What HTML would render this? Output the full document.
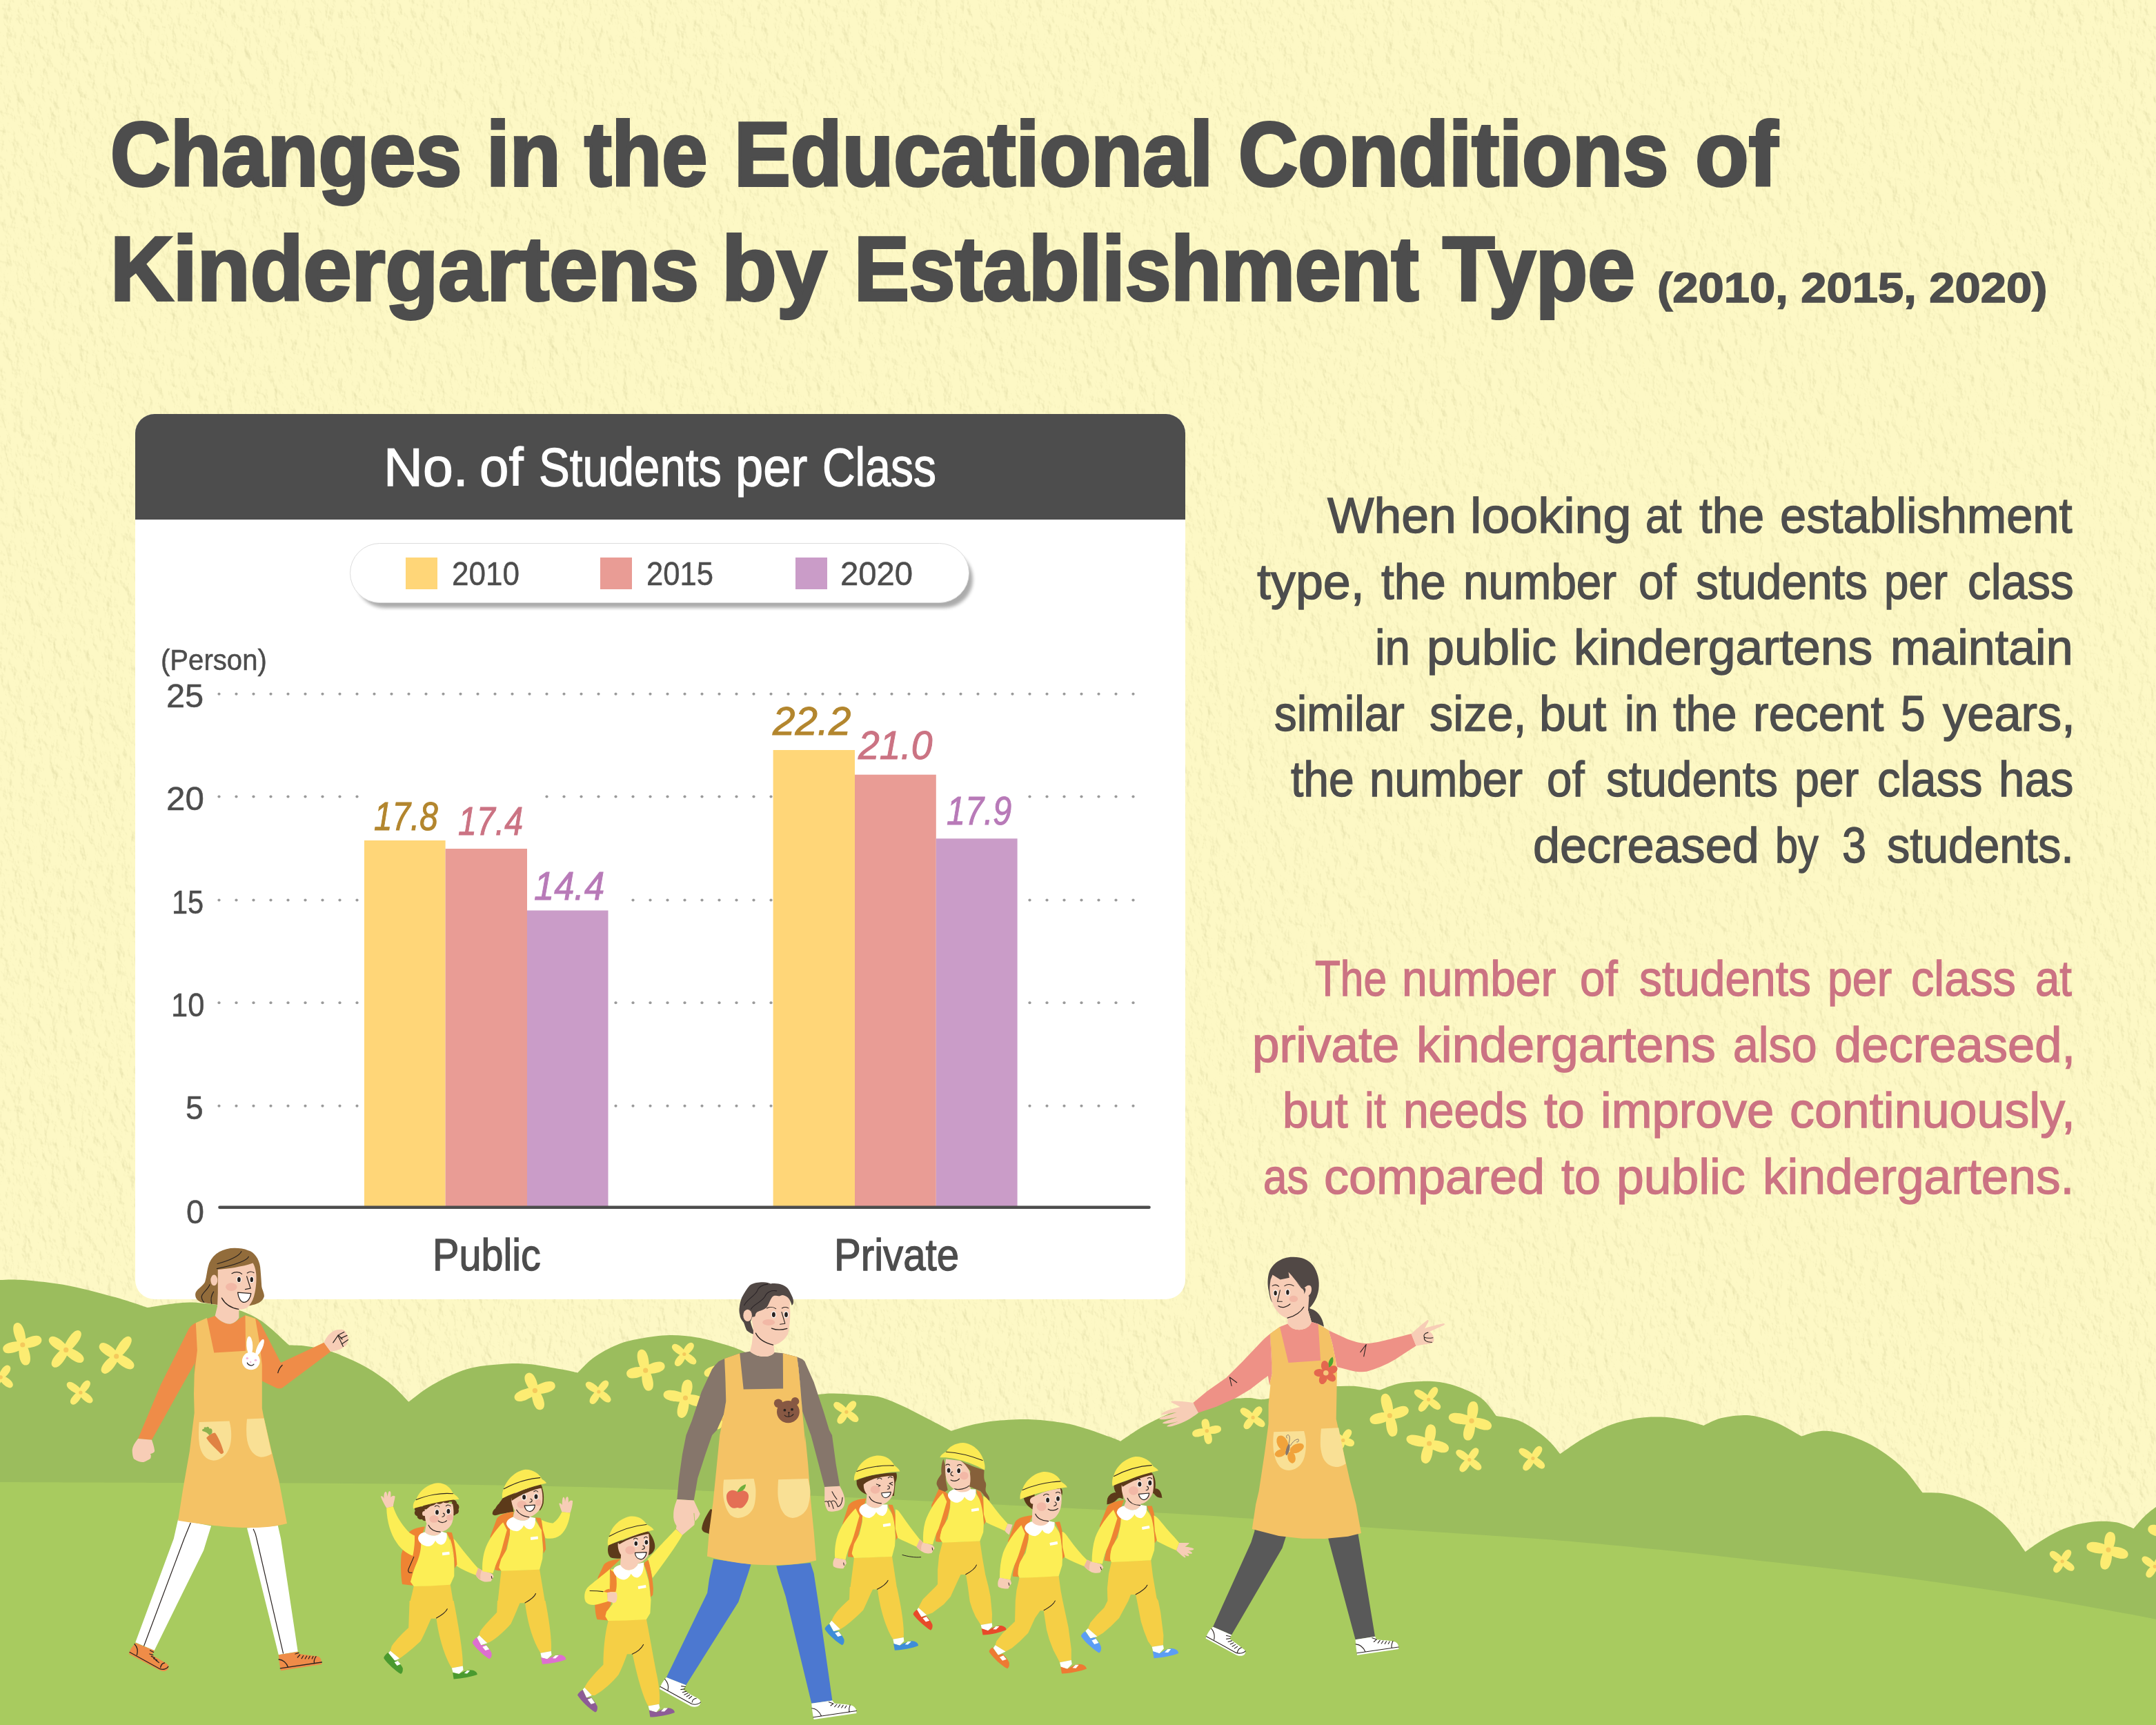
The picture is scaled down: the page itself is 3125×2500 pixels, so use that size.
<!DOCTYPE html>
<html lang="en"><head><meta charset="utf-8">
<title>Changes in the Educational Conditions of Kindergartens by Establishment Type</title>
<style>
html,body,p,h1,h2{margin:0;padding:0}
body{width:3125px;height:2500px;position:relative;overflow:hidden;background:#FDF8C5;font-family:"Liberation Sans", sans-serif}
.t{position:absolute;white-space:pre;transform-origin:0 0;margin:0;padding:0;display:block;line-height:1;font-family:"Liberation Sans", sans-serif;font-weight:400;font-style:normal}
svg.layer{position:absolute;left:0;top:0;width:3125px;height:2500px;display:block}
.card{position:absolute;left:196px;top:599.5px;width:1521.5px;height:1283px;background:#fff;border-radius:28px;overflow:hidden}
.card-head{position:absolute;left:0;top:0;width:100%;height:153.5px;background:#4D4D4D}
.legend{position:absolute;left:507px;top:787px;width:896px;height:85px;border-radius:44px;background:#fff;border:1.2px solid #DCDCDC;box-shadow:7px 9px 5px -2px rgba(0,0,0,.33)}
.sw{position:absolute;top:808px;width:46px;height:45.5px}
</style></head>
<body>
<svg class="layer" viewBox="0 0 3125 2500">
<defs><filter id="paper" x="0" y="0" width="100%" height="100%" color-interpolation-filters="sRGB">
<feTurbulence type="fractalNoise" baseFrequency="0.075 0.05" numOctaves="4" seed="11" result="n"/>
<feDiffuseLighting in="n" lighting-color="#ffffff" surfaceScale="1.35" diffuseConstant="1" result="l"><feDistantLight azimuth="325" elevation="58"/></feDiffuseLighting>
<feColorMatrix in="l" type="matrix" values="0 0 0 0 0.60  0 0 0 0 0.58  0 0 0 0 0.34  -1.1 0 0 0 0.925"/>
</filter></defs>
<rect x="0" y="0" width="3125" height="2400" filter="url(#paper)"/>
<path d="M-10.0,1856.1L-10.0,1856.1C-8.3,1855.9 -7.2,1855.2 0.0,1855.1C7.2,1854.9 16.7,1853.7 33.4,1855.1C50.1,1856.5 77.9,1859.2 100.2,1863.4C122.5,1867.6 148.1,1874.8 167.0,1880.1C185.9,1885.4 205.9,1892.6 213.7,1895.1L213.7,1895.1C219.9,1894.2 238.8,1890.7 250.5,1889.5C262.2,1888.2 269.9,1886.8 283.9,1887.8C297.8,1888.7 318.4,1890.9 334.0,1895.1C349.5,1899.4 363.2,1904.4 377.4,1913.5C391.6,1922.6 412.2,1943.6 419.1,1949.6L419.1,1949.6C423.3,1949.8 435.0,1949.7 444.2,1950.9C453.3,1952.1 464.8,1954.3 474.2,1956.9C483.7,1959.6 490.9,1962.5 500.9,1966.9C511.0,1971.4 523.2,1977.0 534.3,1983.6C545.5,1990.3 558.0,1998.9 567.7,2007.0C577.5,2015.1 588.6,2027.9 592.8,2032.1L591.7,2032.0C597.6,2027.8 612.6,2014.9 626.8,2006.9C641.0,1999.0 660.2,1989.2 676.9,1984.2C693.6,1979.2 712.0,1978.1 727.0,1976.9C742.0,1975.7 752.6,1975.6 767.1,1976.9C781.5,1978.2 802.1,1982.5 813.8,1984.6C825.5,1986.7 833.3,1988.7 837.2,1989.6L837.2,1989.6C841.1,1985.9 851.1,1974.3 860.6,1967.5C870.0,1960.8 882.8,1953.7 894.0,1949.2C905.1,1944.6 914.6,1942.5 927.4,1940.1C940.2,1937.8 956.9,1935.4 970.8,1935.1C984.7,1934.9 998.6,1936.5 1010.8,1938.5C1023.1,1940.4 1033.1,1943.5 1044.2,1946.8C1055.4,1950.2 1063.7,1952.1 1077.6,1958.5C1091.5,1964.9 1113.8,1977.2 1127.7,1985.2C1141.6,1993.3 1152.2,2000.8 1161.1,2006.9C1170.0,2013.1 1177.8,2019.5 1181.2,2022.0L1178.0,2022.0C1182.8,2021.6 1196.3,2019.7 1206.6,2019.6C1216.9,2019.5 1228.9,2020.5 1240.0,2021.3C1251.1,2022.1 1262.3,2021.7 1273.4,2024.3C1284.5,2026.9 1295.7,2032.1 1306.8,2037.0C1317.9,2041.9 1328.2,2047.6 1340.2,2053.7C1352.2,2059.8 1372.2,2070.4 1378.6,2073.7L1378.6,2073.7C1383.3,2072.3 1396.7,2067.8 1407.0,2065.4C1417.3,2063.0 1426.5,2060.8 1440.4,2059.4C1454.3,2058.0 1473.8,2056.6 1490.5,2057.0C1507.2,2057.5 1526.6,2059.8 1540.6,2062.0C1554.5,2064.3 1562.8,2067.1 1574.0,2070.4C1585.1,2073.7 1599.0,2079.0 1607.4,2082.1C1615.7,2085.1 1621.3,2087.6 1624.1,2088.8L1624.1,2088.8C1629.6,2085.1 1646.3,2073.5 1657.4,2067.1C1668.6,2060.7 1679.7,2055.4 1690.8,2050.4C1702.0,2045.3 1713.1,2040.4 1724.2,2037.0C1735.4,2033.5 1743.7,2031.5 1757.6,2029.7C1771.5,2027.8 1794.4,2026.4 1807.7,2026.0C1821.1,2025.5 1822.4,2030.3 1837.8,2027.0C1853.2,2023.7 1883.5,2009.2 1900.0,2006.2C1916.5,2003.2 1925.6,2008.4 1936.7,2008.9C1947.9,2009.4 1956.2,2008.3 1966.8,2009.2C1977.4,2010.2 1994.6,2013.7 2000.2,2014.5L2000.2,2014.5C2004.6,2013.0 2016.9,2007.3 2026.9,2005.2C2036.9,2003.1 2049.2,2002.0 2060.3,2001.9C2071.4,2001.7 2082.6,2002.0 2093.7,2004.2C2104.8,2006.4 2117.6,2011.0 2127.1,2015.2C2136.6,2019.4 2143.5,2023.1 2150.5,2029.2C2157.4,2035.4 2165.8,2048.2 2168.8,2052.0L2168.8,2052.0C2174.1,2053.1 2190.8,2055.0 2200.6,2058.6C2210.3,2062.2 2219.5,2068.4 2227.3,2073.7C2235.1,2078.9 2241.6,2084.8 2247.3,2090.4C2253.0,2095.9 2259.0,2104.3 2261.3,2107.1L2261.3,2107.1C2266.8,2103.4 2281.9,2092.3 2294.1,2085.3C2306.2,2078.4 2320.8,2070.3 2334.1,2065.3C2347.5,2060.3 2362.0,2057.2 2374.2,2055.3C2386.5,2053.3 2396.5,2053.2 2407.6,2053.6C2418.7,2054.1 2430.7,2055.9 2441.0,2058.0C2451.3,2060.0 2464.7,2064.6 2469.4,2066.0L2469.4,2066.0C2473.6,2064.2 2484.7,2057.8 2494.4,2055.3C2504.2,2052.8 2518.1,2051.1 2527.8,2050.9C2537.6,2050.8 2544.0,2052.4 2552.8,2054.6C2561.6,2056.9 2570.9,2059.9 2580.7,2064.4C2590.4,2068.9 2606.2,2078.7 2611.3,2081.6L2611.3,2081.6C2614.5,2080.6 2624.3,2076.7 2630.8,2075.5C2637.2,2074.2 2642.3,2073.4 2650.2,2074.1C2658.1,2074.8 2668.8,2076.9 2678.1,2079.7C2687.3,2082.5 2696.6,2086.2 2705.9,2090.8C2715.2,2095.4 2724.4,2100.8 2733.7,2107.5C2743.0,2114.2 2752.7,2121.9 2761.6,2131.2C2770.4,2140.4 2782.4,2157.8 2786.6,2163.2L2786.6,2163.2C2791.7,2163.4 2807.5,2163.2 2817.2,2164.5C2827.0,2165.9 2835.8,2168.3 2845.0,2171.5C2854.3,2174.8 2863.6,2178.5 2872.9,2184.0C2882.1,2189.6 2892.8,2197.7 2900.7,2204.9C2908.6,2212.1 2914.4,2219.8 2920.2,2227.2C2926.0,2234.5 2932.9,2245.3 2935.5,2248.9L2935.5,2248.9C2939.4,2246.2 2951.0,2237.7 2959.1,2232.7C2967.3,2227.7 2975.4,2222.8 2984.2,2218.8C2993.0,2214.9 3002.7,2211.4 3012.0,2209.1C3021.3,2206.8 3030.6,2205.4 3039.8,2204.9C3049.1,2204.4 3058.9,2204.6 3067.7,2206.3C3076.5,2208.0 3088.5,2213.7 3092.7,2215.2L3092.7,2215.2C3095.5,2212.1 3104.0,2201.7 3109.4,2196.6C3114.8,2191.4 3118.0,2189.1 3125.0,2184.0C3132.0,2178.9 3146.8,2169.0 3151.2,2165.9L3140,2500L-20,2500Z" fill="#9BBD5D"/>
<path d="M28.8,1951.1C21.8,1941.8 14.0,1920.0 23.9,1917.3C33.9,1914.5 38.6,1937.1 37.4,1948.7ZM30.7,1944.9C38.5,1938.1 57.1,1930.8 60.1,1940.6C63.1,1950.5 43.6,1954.8 33.3,1953.5ZM37.1,1947.3C43.1,1956.2 48.5,1976.6 38.4,1978.5C28.3,1980.4 25.9,1959.5 28.3,1948.9ZM34.8,1953.1C26.5,1959.6 7.0,1966.2 4.5,1956.2C1.9,1946.2 22.2,1942.7 32.6,1944.4Z" fill="#FCEC72"/><circle cx="32.8" cy="1949.0" r="3.6" fill="#F4C95C"/><path d="M91.7,1954.8C95.2,1943.4 108.0,1923.3 115.8,1928.9C123.5,1934.6 108.3,1953.0 98.5,1959.7ZM97.2,1952.4C107.6,1954.3 125.9,1964.2 120.8,1972.4C115.6,1980.5 98.9,1968.1 92.7,1959.5ZM99.6,1958.3C96.5,1968.7 84.4,1986.6 76.8,1980.7C69.2,1974.8 83.6,1958.7 93.0,1953.1ZM94.0,1960.4C83.7,1957.8 66.1,1946.7 71.8,1939.0C77.5,1931.2 93.4,1944.6 98.9,1953.6Z" fill="#FCEC72"/><circle cx="95.7" cy="1956.4" r="3.6" fill="#F4C95C"/><path d="M164.6,1964.1C168.0,1952.6 180.9,1932.2 188.7,1937.8C196.5,1943.5 181.3,1962.1 171.5,1969.0ZM170.2,1961.7C180.6,1963.7 198.9,1973.7 193.7,1981.8C188.5,1989.9 171.7,1977.4 165.6,1968.7ZM172.5,1967.7C168.9,1978.1 156.0,1995.8 148.6,1989.6C141.2,1983.4 156.4,1967.6 166.0,1962.3ZM166.9,1969.6C156.7,1967.1 139.1,1956.2 144.7,1948.4C150.3,1940.6 166.2,1953.9 171.8,1962.8Z" fill="#FCEC72"/><circle cx="168.7" cy="1965.7" r="3.6" fill="#F4C95C"/><path d="M-1.9,1994.5C-0.3,1987.2 7.3,1975.1 13.4,1979.6C19.4,1984.1 9.9,1994.9 3.4,1998.4ZM2.7,1993.0C10.2,1995.1 22.6,2003.8 17.8,2009.7C13.0,2015.5 2.1,2005.0 -1.5,1998.1ZM3.9,1997.8C1.4,2005.0 -7.9,2016.5 -13.4,2011.3C-18.9,2006.1 -7.9,1996.2 -0.9,1993.2ZM-0.1,1999.1C-7.7,1998.0 -20.8,1991.0 -16.7,1984.6C-12.6,1978.2 -0.8,1987.1 3.4,1993.5Z" fill="#FCEC72"/><circle cx="1.1" cy="1996.0" r="2.8" fill="#F4C95C"/><path d="M114.0,2016.9C115.6,2009.6 123.3,1997.1 129.1,2001.3C135.0,2005.5 125.5,2016.7 119.1,2020.6ZM118.4,2015.4C125.8,2017.6 138.2,2026.3 133.6,2031.9C129.0,2037.5 118.0,2027.1 114.4,2020.2ZM119.7,2019.7C117.6,2027.0 109.1,2039.2 103.5,2034.7C97.9,2030.2 108.1,2019.3 114.8,2015.7ZM115.7,2021.2C107.5,2019.2 93.3,2010.6 97.4,2004.6C101.5,1998.7 114.5,2009.1 119.3,2016.0Z" fill="#FCEC72"/><circle cx="116.9" cy="2018.2" r="2.6" fill="#F4C95C"/><path d="M771.6,2017.9C764.1,2011.3 755.0,1994.4 764.4,1990.2C773.8,1986.1 780.1,2004.3 779.9,2014.2ZM773.3,2011.2C781.7,2004.4 801.6,1997.0 804.5,2006.9C807.3,2016.8 786.5,2021.2 775.8,2019.9ZM779.4,2013.1C786.4,2020.9 794.2,2039.8 784.4,2043.0C774.6,2046.2 769.8,2026.3 770.9,2015.9ZM777.9,2019.1C769.8,2026.9 749.8,2036.6 746.0,2027.0C742.2,2017.4 763.4,2010.7 774.6,2010.8Z" fill="#FCEC72"/><circle cx="775.4" cy="2015.3" r="3.6" fill="#F4C95C"/><path d="M866.7,2019.9C858.9,2018.2 845.4,2010.2 849.5,2004.3C853.6,1998.3 865.9,2008.1 870.2,2014.7ZM865.1,2015.4C867.0,2008.5 875.0,1997.0 880.6,2001.6C886.2,2006.2 876.4,2016.2 870.0,2019.4ZM869.4,2014.1C876.9,2016.5 889.2,2025.5 884.6,2031.0C880.0,2036.5 869.0,2025.9 865.4,2019.0ZM870.9,2018.2C869.6,2025.5 862.6,2038.3 856.6,2034.3C850.5,2030.4 859.4,2018.8 865.6,2014.7Z" fill="#FCEC72"/><circle cx="867.9" cy="2017.0" r="2.6" fill="#F4C95C"/><path d="M931.5,1988.1C925.2,1979.0 919.0,1958.1 929.0,1955.8C939.1,1953.6 942.2,1975.2 940.3,1986.2ZM933.7,1982.1C941.7,1975.5 960.7,1968.6 963.4,1978.6C966.2,1988.5 946.4,1992.4 936.1,1990.8ZM939.9,1984.5C946.0,1993.4 951.5,2013.7 941.4,2015.6C931.3,2017.6 928.8,1996.7 931.1,1986.2ZM937.4,1990.5C929.3,1996.5 910.4,2002.0 908.3,1991.9C906.2,1981.8 925.7,1979.4 935.6,1981.7Z" fill="#FCEC72"/><circle cx="935.7" cy="1986.2" r="3.6" fill="#F4C95C"/><path d="M990.4,1965.4C983.0,1963.5 970.4,1955.2 974.8,1949.5C979.2,1943.8 990.4,1953.8 994.2,1960.4ZM989.0,1961.0C990.7,1954.0 998.5,1942.4 1004.2,1946.8C1009.8,1951.3 1000.3,1961.6 993.9,1964.9ZM993.3,1959.7C1000.6,1961.8 1013.0,1970.3 1008.5,1975.9C1004.0,1981.5 993.0,1971.3 989.3,1964.6ZM994.7,1963.9C993.2,1971.1 985.6,1983.4 979.8,1979.2C973.9,1975.0 983.2,1964.0 989.6,1960.2Z" fill="#FCEC72"/><circle cx="991.8" cy="1962.5" r="2.6" fill="#F4C95C"/><path d="M988.9,2026.1C986.0,2016.7 987.3,1998.0 997.5,1999.6C1007.7,2001.1 1003.3,2019.4 997.8,2027.4ZM993.8,2021.4C1004.4,2019.8 1025.2,2023.7 1022.5,2033.7C1019.9,2043.6 1000.0,2036.7 991.5,2030.1ZM998.1,2026.1C1000.0,2036.6 996.8,2057.0 986.8,2054.7C976.8,2052.4 983.0,2032.6 989.3,2024.1ZM993.6,2030.6C982.4,2032.9 959.9,2030.4 961.7,2020.3C963.6,2010.2 985.5,2015.7 995.2,2021.7Z" fill="#FCEC72"/><circle cx="993.5" cy="2026.0" r="3.6" fill="#F4C95C"/><path d="M1048.2,1985.3C1041.3,1992.0 1024.3,2000.3 1021.0,1992.0C1017.7,1983.7 1035.7,1978.0 1045.3,1978.1Z" fill="#FCEC72"/><circle cx="1046.0" cy="1982.0" r="0.1" fill="#F4C95C"/><path d="M1045.8,2059.7C1039.2,2057.4 1029.1,2048.8 1034.2,2043.7C1039.3,2038.6 1047.9,2048.7 1050.2,2055.2ZM1044.8,2055.4C1047.0,2048.5 1055.5,2037.2 1060.9,2042.0C1066.3,2046.8 1056.2,2056.6 1049.5,2059.6ZM1048.7,2054.0C1055.7,2054.8 1068.0,2060.9 1064.3,2067.1C1060.6,2073.2 1049.4,2065.3 1045.5,2059.4ZM1050.4,2058.5C1049.5,2064.7 1043.3,2074.7 1037.6,2070.4C1031.8,2066.1 1039.7,2057.4 1045.4,2054.7Z" fill="#FCEC72"/><circle cx="1047.6" cy="2057.0" r="2.6" fill="#F4C95C"/><path d="M1225.6,2049.3C1218.0,2047.5 1204.7,2039.6 1208.9,2033.7C1213.0,2027.8 1225.0,2037.5 1229.3,2044.2ZM1224.1,2044.8C1226.0,2037.9 1234.1,2026.7 1239.6,2031.3C1245.1,2036.0 1235.4,2045.8 1228.9,2048.8ZM1228.3,2043.5C1235.7,2045.4 1248.0,2053.7 1243.6,2059.4C1239.2,2065.1 1228.2,2055.1 1224.5,2048.4ZM1229.8,2047.7C1228.4,2054.8 1221.1,2066.9 1215.2,2062.7C1209.4,2058.5 1218.4,2047.7 1224.7,2044.0Z" fill="#FCEC72"/><circle cx="1226.9" cy="2046.3" r="2.6" fill="#F4C95C"/><path d="M1814.8,2057.3C1807.3,2055.7 1794.2,2047.9 1798.4,2042.0C1802.5,2036.1 1814.3,2045.6 1818.4,2052.2ZM1813.2,2052.9C1814.8,2046.1 1822.1,2034.9 1827.8,2039.3C1833.5,2043.8 1824.4,2053.6 1818.2,2056.7ZM1817.4,2051.4C1824.7,2053.0 1837.0,2060.5 1832.8,2066.4C1828.6,2072.2 1817.5,2062.9 1813.7,2056.6ZM1819.0,2055.7C1817.5,2062.8 1810.2,2074.6 1804.4,2070.4C1798.6,2066.1 1807.6,2055.6 1813.9,2052.0Z" fill="#FCEC72"/><circle cx="1816.1" cy="2054.4" r="2.6" fill="#F4C95C"/><path d="M1746.1,2074.9C1742.0,2069.7 1738.5,2057.8 1745.9,2056.4C1753.4,2054.9 1754.6,2067.3 1752.6,2073.6ZM1748.1,2070.6C1754.5,2066.4 1768.8,2062.9 1770.0,2070.4C1771.2,2077.9 1756.5,2079.1 1749.2,2077.1ZM1752.4,2072.6C1756.6,2078.3 1760.1,2091.5 1752.6,2092.8C1745.2,2094.1 1744.0,2080.6 1745.9,2073.7ZM1750.7,2076.8C1744.5,2081.5 1730.0,2086.1 1728.2,2078.7C1726.5,2071.4 1741.5,2069.0 1749.2,2070.4Z" fill="#FCEC72"/><circle cx="1749.3" cy="2073.7" r="2.8" fill="#F4C95C"/><path d="M2010.1,2053.6C2003.5,2044.2 1996.6,2022.3 2006.6,2019.9C2016.6,2017.5 2020.5,2040.1 2018.9,2051.5ZM2012.0,2047.7C2019.5,2040.6 2038.0,2032.5 2041.4,2042.2C2044.8,2051.9 2025.3,2057.1 2014.9,2056.2ZM2018.5,2049.9C2024.5,2059.1 2030.0,2080.0 2019.8,2081.8C2009.7,2083.7 2007.3,2062.3 2009.7,2051.6ZM2016.2,2055.8C2007.9,2062.3 1988.3,2068.9 1985.7,2058.9C1983.2,2048.9 2003.6,2045.3 2014.0,2047.1Z" fill="#FCEC72"/><circle cx="2014.3" cy="2051.6" r="3.6" fill="#F4C95C"/><path d="M2069.6,2031.3C2061.3,2029.7 2046.6,2021.9 2050.4,2015.7C2054.2,2009.6 2067.8,2019.3 2072.9,2026.0ZM2067.7,2027.0C2069.1,2019.6 2076.5,2006.8 2082.4,2010.9C2088.4,2014.9 2079.2,2026.5 2072.9,2030.6ZM2072.1,2025.4C2079.4,2027.4 2091.8,2035.8 2087.3,2041.5C2082.8,2047.1 2071.8,2037.0 2068.2,2030.3ZM2073.5,2029.7C2071.5,2037.1 2063.1,2049.4 2057.4,2045.0C2051.7,2040.5 2061.9,2029.5 2068.5,2025.8Z" fill="#FCEC72"/><circle cx="2070.6" cy="2028.3" r="2.6" fill="#F4C95C"/><path d="M2128.4,2059.5C2125.2,2049.8 2125.8,2029.9 2136.0,2031.0C2146.3,2032.2 2142.6,2051.7 2137.3,2060.5ZM2133.4,2054.6C2144.1,2053.4 2164.8,2058.1 2161.8,2067.9C2158.8,2077.8 2139.1,2070.1 2130.8,2063.2ZM2137.5,2059.3C2139.5,2069.6 2136.3,2089.8 2126.3,2087.4C2116.3,2085.0 2122.4,2065.6 2128.8,2057.3ZM2133.2,2063.8C2121.5,2066.0 2098.1,2063.5 2099.8,2053.3C2101.6,2043.2 2124.5,2048.8 2134.7,2054.9Z" fill="#FCEC72"/><circle cx="2133.0" cy="2059.2" r="3.6" fill="#F4C95C"/><path d="M2067.2,2092.3C2064.0,2082.8 2064.6,2063.3 2074.8,2064.4C2085.0,2065.6 2081.3,2084.7 2076.1,2093.3ZM2072.2,2087.4C2082.7,2086.2 2102.9,2090.8 2099.8,2100.6C2096.8,2110.5 2077.6,2102.9 2069.6,2096.0ZM2076.3,2092.1C2078.2,2102.6 2075.1,2123.1 2065.1,2120.8C2055.0,2118.5 2061.2,2098.7 2067.6,2090.1ZM2071.7,2096.6C2059.9,2098.3 2036.4,2094.7 2038.6,2084.6C2040.9,2074.6 2063.7,2081.3 2073.7,2087.8Z" fill="#FCEC72"/><circle cx="2071.7" cy="2092.0" r="3.6" fill="#F4C95C"/><path d="M2128.5,2118.6C2120.7,2116.8 2106.9,2108.6 2111.0,2102.7C2115.1,2096.8 2127.6,2106.7 2132.1,2113.4ZM2126.8,2114.3C2128.3,2107.1 2135.7,2095.0 2141.6,2099.2C2147.4,2103.4 2138.3,2114.3 2132.0,2118.0ZM2131.2,2112.8C2138.6,2114.9 2151.0,2123.5 2146.5,2129.1C2141.9,2134.8 2130.9,2124.5 2127.3,2117.7ZM2132.7,2117.0C2130.9,2124.4 2123.0,2136.9 2117.2,2132.6C2111.4,2128.3 2121.1,2117.1 2127.6,2113.3Z" fill="#FCEC72"/><circle cx="2129.8" cy="2115.6" r="2.6" fill="#F4C95C"/><path d="M2220.7,2116.6C2212.6,2114.8 2198.2,2106.7 2202.1,2100.6C2206.1,2094.6 2219.3,2104.6 2224.2,2111.3ZM2218.9,2112.3C2220.3,2105.0 2227.4,2092.4 2233.4,2096.4C2239.4,2100.5 2230.4,2111.8 2224.1,2115.8ZM2223.4,2110.7C2230.7,2112.9 2242.9,2121.5 2238.3,2127.1C2233.7,2132.6 2222.9,2122.3 2219.4,2115.6ZM2224.8,2114.9C2222.9,2122.3 2214.8,2134.9 2209.1,2130.5C2203.3,2126.2 2213.1,2115.0 2219.7,2111.2Z" fill="#FCEC72"/><circle cx="2221.9" cy="2113.6" r="2.6" fill="#F4C95C"/><path d="M1943.9,2086.1C1944.9,2079.4 1951.3,2068.0 1957.2,2072.1C1963.2,2076.2 1955.0,2086.3 1949.1,2089.6ZM1947.3,2084.3C1953.6,2083.3 1965.2,2086.2 1962.8,2093.0C1960.4,2099.8 1949.6,2094.9 1945.3,2090.2ZM1949.8,2088.5C1949.8,2094.5 1945.4,2104.8 1939.1,2101.3C1932.8,2097.8 1939.1,2088.6 1944.3,2085.5ZM1945.7,2090.4C1939.4,2090.2 1928.6,2085.3 1932.2,2079.1C1935.7,2072.8 1945.4,2079.6 1948.8,2084.9Z" fill="#FCEC72"/><circle cx="1946.8" cy="2087.4" r="2.6" fill="#F4C95C"/><path d="M2987.8,2265.7C2980.2,2263.6 2967.3,2255.2 2971.7,2249.4C2976.0,2243.7 2987.6,2253.9 2991.6,2260.7ZM2986.3,2261.5C2987.5,2254.5 2994.4,2242.5 3000.3,2246.6C3006.3,2250.7 2997.6,2261.4 2991.5,2265.1ZM2990.6,2259.9C2997.8,2261.5 3010.2,2269.2 3005.9,2275.0C3001.6,2280.8 2990.6,2271.4 2986.8,2265.0ZM2992.1,2264.1C2990.9,2271.1 2984.0,2282.8 2978.1,2278.6C2972.2,2274.5 2980.8,2264.0 2987.0,2260.5Z" fill="#FCEC72"/><circle cx="2989.2" cy="2262.8" r="2.6" fill="#F4C95C"/><path d="M3051.4,2246.2C3048.5,2237.0 3049.7,2218.7 3059.9,2220.2C3070.1,2221.7 3065.8,2239.6 3060.3,2247.5ZM3056.4,2241.5C3066.9,2240.1 3087.2,2244.2 3084.4,2254.2C3081.6,2264.1 3062.1,2256.9 3053.9,2250.2ZM3060.6,2246.2C3062.6,2256.5 3059.6,2276.7 3049.6,2274.5C3039.5,2272.2 3045.5,2252.7 3051.8,2244.2ZM3056.1,2250.7C3045.0,2253.0 3022.7,2250.7 3024.5,2240.5C3026.3,2230.4 3048.1,2235.8 3057.7,2241.8Z" fill="#FCEC72"/><circle cx="3056.0" cy="2246.1" r="3.6" fill="#F4C95C"/><path d="M3122.0,2273.2C3114.3,2271.3 3101.0,2263.1 3105.2,2257.2C3109.5,2251.4 3121.5,2261.4 3125.7,2268.1ZM3120.4,2268.9C3122.7,2261.1 3131.5,2247.8 3137.3,2252.2C3143.0,2256.6 3132.4,2268.6 3125.4,2272.8ZM3124.7,2267.4C3132.0,2269.2 3144.4,2277.1 3140.0,2282.8C3135.7,2288.6 3124.7,2279.0 3120.9,2272.4ZM3126.2,2271.7C3124.9,2278.5 3118.0,2289.8 3112.2,2285.6C3106.4,2281.4 3115.0,2271.3 3121.1,2268.0Z" fill="#FCEC72"/><circle cx="3123.3" cy="2270.3" r="2.6" fill="#F4C95C"/><path d="M3141.0,2227.6C3130.6,2228.9 3110.6,2224.5 3113.6,2214.6C3116.6,2204.8 3135.6,2212.1 3143.6,2218.9ZM3136.9,2223.1C3134.0,2213.7 3135.4,2194.9 3145.6,2196.6C3155.8,2198.2 3151.3,2216.4 3145.7,2224.5ZM3141.5,2218.4C3150.0,2215.6 3166.9,2217.0 3165.1,2227.2C3163.3,2237.3 3147.0,2232.8 3139.9,2227.3ZM3146.0,2222.9C3148.8,2232.3 3147.4,2251.0 3137.3,2249.4C3127.1,2247.8 3131.5,2229.6 3137.1,2221.5Z" fill="#FCEC72"/><circle cx="3141.4" cy="2223.0" r="3.6" fill="#F4C95C"/>
<path d="M-20,2147.5C-16.7,2147.6 -45.0,2147.8 0.0,2148.0C45.0,2148.2 166.7,2148.7 250.0,2149.0C333.3,2149.3 416.7,2149.3 500.0,2150.0C583.3,2150.7 670.5,2151.5 750.0,2153.0C829.5,2154.5 904.5,2156.5 977.0,2159.0C1049.5,2161.5 1102.2,2164.2 1185.0,2168.0C1267.8,2171.8 1386.8,2177.7 1474.0,2182.0C1561.2,2186.3 1652.3,2190.9 1708.0,2194.0C1763.7,2197.1 1763.8,2197.4 1808.0,2200.6C1852.2,2203.8 1902.5,2208.0 1973.5,2213.0C2044.5,2218.0 2162.8,2225.2 2234.0,2230.6C2305.2,2236.0 2352.5,2240.9 2401.0,2245.6C2449.5,2250.3 2481.2,2254.2 2525.0,2259.0C2568.8,2263.8 2617.7,2268.9 2664.0,2274.5C2710.3,2280.1 2756.7,2286.1 2803.0,2292.6C2849.3,2299.1 2895.5,2305.8 2942.0,2313.4C2988.5,2321.1 3051.5,2332.9 3082.0,2338.5C3112.5,2344.1 3113.7,2344.6 3125.0,2346.8C3136.3,2349.1 3145.8,2351.1 3150.0,2352.0L3150,2520L-20,2520Z" fill="#A8CB5F"/>

</svg>
<header>
<span class="t" style="left:159.8px;top:157.8px;font-size:132px;font-weight:700;color:#4D4D4D;transform:scaleX(0.9137);-webkit-text-stroke:4px #4D4D4D;">Changes</span>
<span class="t" style="left:705.1px;top:157.8px;font-size:132px;font-weight:700;color:#4D4D4D;transform:scaleX(0.9171);-webkit-text-stroke:4px #4D4D4D;">in</span>
<span class="t" style="left:846.9px;top:157.8px;font-size:132px;font-weight:700;color:#4D4D4D;transform:scaleX(0.9004);-webkit-text-stroke:4px #4D4D4D;">the</span>
<span class="t" style="left:1064.4px;top:157.8px;font-size:132px;font-weight:700;color:#4D4D4D;transform:scaleX(0.9280);-webkit-text-stroke:4px #4D4D4D;">Educational</span>
<span class="t" style="left:1794.8px;top:157.8px;font-size:132px;font-weight:700;color:#4D4D4D;transform:scaleX(0.9044);-webkit-text-stroke:4px #4D4D4D;">Conditions</span>
<span class="t" style="left:2457.1px;top:157.8px;font-size:132px;font-weight:700;color:#4D4D4D;transform:scaleX(0.9628);-webkit-text-stroke:4px #4D4D4D;">of</span>
<span class="t" style="left:160.3px;top:323.5px;font-size:132px;font-weight:700;color:#4D4D4D;transform:scaleX(0.9532);-webkit-text-stroke:4px #4D4D4D;">Kindergartens</span>
<span class="t" style="left:1046.1px;top:323.5px;font-size:132px;font-weight:700;color:#4D4D4D;transform:scaleX(0.9891);-webkit-text-stroke:4px #4D4D4D;">by</span>
<span class="t" style="left:1238.1px;top:323.5px;font-size:132px;font-weight:700;color:#4D4D4D;transform:scaleX(0.9072);-webkit-text-stroke:4px #4D4D4D;">Establishment</span>
<span class="t" style="left:2090.9px;top:323.5px;font-size:132px;font-weight:700;color:#4D4D4D;transform:scaleX(0.9347);-webkit-text-stroke:4px #4D4D4D;">Type</span>
<span class="t" style="left:2401.6px;top:385.5px;font-size:62px;font-weight:700;color:#4D4D4D;transform:scaleX(1.0792);-webkit-text-stroke:1.5px #4D4D4D;">(2010, 2015, 2020)</span>
</header>
<section class="card"><div class="card-head"></div></section>
<h2><span class="t" style="left:555.8px;top:638.8px;font-size:77px;color:#FFFFFF;transform:scaleX(1.0232);-webkit-text-stroke:1.3px #FFFFFF;">No.</span> <span class="t" style="left:695.2px;top:638.8px;font-size:77px;color:#FFFFFF;transform:scaleX(0.9901);-webkit-text-stroke:1.3px #FFFFFF;">of</span> <span class="t" style="left:780.5px;top:638.8px;font-size:77px;color:#FFFFFF;transform:scaleX(0.8716);-webkit-text-stroke:1.3px #FFFFFF;">Students</span> <span class="t" style="left:1065.6px;top:638.8px;font-size:77px;color:#FFFFFF;transform:scaleX(0.9380);-webkit-text-stroke:1.3px #FFFFFF;">per</span> <span class="t" style="left:1191.7px;top:638.8px;font-size:77px;color:#FFFFFF;transform:scaleX(0.8562);-webkit-text-stroke:1.3px #FFFFFF;">Class</span></h2>
<div class="legend"></div>
<i class="sw" style="left:588px;background:#FFD678"></i><i class="sw" style="left:870px;background:#E99C95"></i><i class="sw" style="left:1153px;background:#CA9CC8"></i>
<svg class="layer" viewBox="0 0 3125 2500">
<g fill="#9A9A9A"><circle cx="317.5" cy="1005.75" r="2.1"/><circle cx="342.5" cy="1005.75" r="2.1"/><circle cx="367.5" cy="1005.75" r="2.1"/><circle cx="392.5" cy="1005.75" r="2.1"/><circle cx="417.5" cy="1005.75" r="2.1"/><circle cx="442.5" cy="1005.75" r="2.1"/><circle cx="467.5" cy="1005.75" r="2.1"/><circle cx="492.5" cy="1005.75" r="2.1"/><circle cx="517.5" cy="1005.75" r="2.1"/><circle cx="542.5" cy="1005.75" r="2.1"/><circle cx="567.5" cy="1005.75" r="2.1"/><circle cx="592.5" cy="1005.75" r="2.1"/><circle cx="617.5" cy="1005.75" r="2.1"/><circle cx="642.5" cy="1005.75" r="2.1"/><circle cx="667.5" cy="1005.75" r="2.1"/><circle cx="692.5" cy="1005.75" r="2.1"/><circle cx="717.5" cy="1005.75" r="2.1"/><circle cx="742.5" cy="1005.75" r="2.1"/><circle cx="767.5" cy="1005.75" r="2.1"/><circle cx="792.5" cy="1005.75" r="2.1"/><circle cx="817.5" cy="1005.75" r="2.1"/><circle cx="842.5" cy="1005.75" r="2.1"/><circle cx="867.5" cy="1005.75" r="2.1"/><circle cx="892.5" cy="1005.75" r="2.1"/><circle cx="917.5" cy="1005.75" r="2.1"/><circle cx="942.5" cy="1005.75" r="2.1"/><circle cx="967.5" cy="1005.75" r="2.1"/><circle cx="992.5" cy="1005.75" r="2.1"/><circle cx="1017.5" cy="1005.75" r="2.1"/><circle cx="1042.5" cy="1005.75" r="2.1"/><circle cx="1067.5" cy="1005.75" r="2.1"/><circle cx="1092.5" cy="1005.75" r="2.1"/><circle cx="1117.5" cy="1005.75" r="2.1"/><circle cx="1142.5" cy="1005.75" r="2.1"/><circle cx="1167.5" cy="1005.75" r="2.1"/><circle cx="1192.5" cy="1005.75" r="2.1"/><circle cx="1217.5" cy="1005.75" r="2.1"/><circle cx="1242.5" cy="1005.75" r="2.1"/><circle cx="1267.5" cy="1005.75" r="2.1"/><circle cx="1292.5" cy="1005.75" r="2.1"/><circle cx="1317.5" cy="1005.75" r="2.1"/><circle cx="1342.5" cy="1005.75" r="2.1"/><circle cx="1367.5" cy="1005.75" r="2.1"/><circle cx="1392.5" cy="1005.75" r="2.1"/><circle cx="1417.5" cy="1005.75" r="2.1"/><circle cx="1442.5" cy="1005.75" r="2.1"/><circle cx="1467.5" cy="1005.75" r="2.1"/><circle cx="1492.5" cy="1005.75" r="2.1"/><circle cx="1517.5" cy="1005.75" r="2.1"/><circle cx="1542.5" cy="1005.75" r="2.1"/><circle cx="1567.5" cy="1005.75" r="2.1"/><circle cx="1592.5" cy="1005.75" r="2.1"/><circle cx="1617.5" cy="1005.75" r="2.1"/><circle cx="1642.5" cy="1005.75" r="2.1"/><circle cx="317.5" cy="1154.5" r="2.1"/><circle cx="342.5" cy="1154.5" r="2.1"/><circle cx="367.5" cy="1154.5" r="2.1"/><circle cx="392.5" cy="1154.5" r="2.1"/><circle cx="417.5" cy="1154.5" r="2.1"/><circle cx="442.5" cy="1154.5" r="2.1"/><circle cx="467.5" cy="1154.5" r="2.1"/><circle cx="492.5" cy="1154.5" r="2.1"/><circle cx="517.5" cy="1154.5" r="2.1"/><circle cx="792.5" cy="1154.5" r="2.1"/><circle cx="817.5" cy="1154.5" r="2.1"/><circle cx="842.5" cy="1154.5" r="2.1"/><circle cx="867.5" cy="1154.5" r="2.1"/><circle cx="892.5" cy="1154.5" r="2.1"/><circle cx="917.5" cy="1154.5" r="2.1"/><circle cx="942.5" cy="1154.5" r="2.1"/><circle cx="967.5" cy="1154.5" r="2.1"/><circle cx="992.5" cy="1154.5" r="2.1"/><circle cx="1017.5" cy="1154.5" r="2.1"/><circle cx="1042.5" cy="1154.5" r="2.1"/><circle cx="1067.5" cy="1154.5" r="2.1"/><circle cx="1092.5" cy="1154.5" r="2.1"/><circle cx="1117.5" cy="1154.5" r="2.1"/><circle cx="1492.5" cy="1154.5" r="2.1"/><circle cx="1517.5" cy="1154.5" r="2.1"/><circle cx="1542.5" cy="1154.5" r="2.1"/><circle cx="1567.5" cy="1154.5" r="2.1"/><circle cx="1592.5" cy="1154.5" r="2.1"/><circle cx="1617.5" cy="1154.5" r="2.1"/><circle cx="1642.5" cy="1154.5" r="2.1"/><circle cx="317.5" cy="1304.5" r="2.1"/><circle cx="342.5" cy="1304.5" r="2.1"/><circle cx="367.5" cy="1304.5" r="2.1"/><circle cx="392.5" cy="1304.5" r="2.1"/><circle cx="417.5" cy="1304.5" r="2.1"/><circle cx="442.5" cy="1304.5" r="2.1"/><circle cx="467.5" cy="1304.5" r="2.1"/><circle cx="492.5" cy="1304.5" r="2.1"/><circle cx="517.5" cy="1304.5" r="2.1"/><circle cx="917.5" cy="1304.5" r="2.1"/><circle cx="942.5" cy="1304.5" r="2.1"/><circle cx="967.5" cy="1304.5" r="2.1"/><circle cx="992.5" cy="1304.5" r="2.1"/><circle cx="1017.5" cy="1304.5" r="2.1"/><circle cx="1042.5" cy="1304.5" r="2.1"/><circle cx="1067.5" cy="1304.5" r="2.1"/><circle cx="1092.5" cy="1304.5" r="2.1"/><circle cx="1117.5" cy="1304.5" r="2.1"/><circle cx="1492.5" cy="1304.5" r="2.1"/><circle cx="1517.5" cy="1304.5" r="2.1"/><circle cx="1542.5" cy="1304.5" r="2.1"/><circle cx="1567.5" cy="1304.5" r="2.1"/><circle cx="1592.5" cy="1304.5" r="2.1"/><circle cx="1617.5" cy="1304.5" r="2.1"/><circle cx="1642.5" cy="1304.5" r="2.1"/><circle cx="317.5" cy="1453.25" r="2.1"/><circle cx="342.5" cy="1453.25" r="2.1"/><circle cx="367.5" cy="1453.25" r="2.1"/><circle cx="392.5" cy="1453.25" r="2.1"/><circle cx="417.5" cy="1453.25" r="2.1"/><circle cx="442.5" cy="1453.25" r="2.1"/><circle cx="467.5" cy="1453.25" r="2.1"/><circle cx="492.5" cy="1453.25" r="2.1"/><circle cx="517.5" cy="1453.25" r="2.1"/><circle cx="892.5" cy="1453.25" r="2.1"/><circle cx="917.5" cy="1453.25" r="2.1"/><circle cx="942.5" cy="1453.25" r="2.1"/><circle cx="967.5" cy="1453.25" r="2.1"/><circle cx="992.5" cy="1453.25" r="2.1"/><circle cx="1017.5" cy="1453.25" r="2.1"/><circle cx="1042.5" cy="1453.25" r="2.1"/><circle cx="1067.5" cy="1453.25" r="2.1"/><circle cx="1092.5" cy="1453.25" r="2.1"/><circle cx="1117.5" cy="1453.25" r="2.1"/><circle cx="1492.5" cy="1453.25" r="2.1"/><circle cx="1517.5" cy="1453.25" r="2.1"/><circle cx="1542.5" cy="1453.25" r="2.1"/><circle cx="1567.5" cy="1453.25" r="2.1"/><circle cx="1592.5" cy="1453.25" r="2.1"/><circle cx="1617.5" cy="1453.25" r="2.1"/><circle cx="1642.5" cy="1453.25" r="2.1"/><circle cx="317.5" cy="1602.75" r="2.1"/><circle cx="342.5" cy="1602.75" r="2.1"/><circle cx="367.5" cy="1602.75" r="2.1"/><circle cx="392.5" cy="1602.75" r="2.1"/><circle cx="417.5" cy="1602.75" r="2.1"/><circle cx="442.5" cy="1602.75" r="2.1"/><circle cx="467.5" cy="1602.75" r="2.1"/><circle cx="492.5" cy="1602.75" r="2.1"/><circle cx="517.5" cy="1602.75" r="2.1"/><circle cx="892.5" cy="1602.75" r="2.1"/><circle cx="917.5" cy="1602.75" r="2.1"/><circle cx="942.5" cy="1602.75" r="2.1"/><circle cx="967.5" cy="1602.75" r="2.1"/><circle cx="992.5" cy="1602.75" r="2.1"/><circle cx="1017.5" cy="1602.75" r="2.1"/><circle cx="1042.5" cy="1602.75" r="2.1"/><circle cx="1067.5" cy="1602.75" r="2.1"/><circle cx="1092.5" cy="1602.75" r="2.1"/><circle cx="1117.5" cy="1602.75" r="2.1"/><circle cx="1492.5" cy="1602.75" r="2.1"/><circle cx="1517.5" cy="1602.75" r="2.1"/><circle cx="1542.5" cy="1602.75" r="2.1"/><circle cx="1567.5" cy="1602.75" r="2.1"/><circle cx="1592.5" cy="1602.75" r="2.1"/><circle cx="1617.5" cy="1602.75" r="2.1"/><circle cx="1642.5" cy="1602.75" r="2.1"/></g><rect x="528" y="1218" width="117.6" height="530.5" fill="#FFD678"/><rect x="645.6" y="1230" width="118.4" height="518.5" fill="#E99C95"/><rect x="764" y="1319.5" width="117.5" height="429.0" fill="#CA9CC8"/><rect x="1120.6" y="1087" width="118.4" height="661.5" fill="#FFD678"/><rect x="1239" y="1122.7" width="117.8" height="625.8" fill="#E99C95"/><rect x="1356.8" y="1215.3" width="117.8" height="533.2" fill="#CA9CC8"/><line x1="318.5" y1="1749.75" x2="1665.5" y2="1749.75" stroke="#4D4D4D" stroke-width="4.6" stroke-linecap="round"/>
</svg>
<section>
<span class="t" style="left:655.4px;top:806.5px;font-size:49px;color:#4D4D4D;transform:scaleX(0.8988);-webkit-text-stroke:0.5px #4D4D4D;">2010</span>
<span class="t" style="left:936.9px;top:806.5px;font-size:49px;color:#4D4D4D;transform:scaleX(0.8894);-webkit-text-stroke:0.5px #4D4D4D;">2015</span>
<span class="t" style="left:1218.3px;top:806.5px;font-size:49px;color:#4D4D4D;transform:scaleX(0.9647);-webkit-text-stroke:0.5px #4D4D4D;">2020</span>
<span class="t" style="left:233.3px;top:935.5px;font-size:42px;color:#4D4D4D;transform:scaleX(0.9552);-webkit-text-stroke:0.5px #4D4D4D;">(Person)</span>
<span class="t" style="left:241.3px;top:984.0px;font-size:49px;color:#4D4D4D;transform:scaleX(0.9951);-webkit-text-stroke:0.5px #4D4D4D;">25</span>
<span class="t" style="left:241.2px;top:1132.5px;font-size:49px;color:#4D4D4D;transform:scaleX(1.0048);-webkit-text-stroke:0.5px #4D4D4D;">20</span>
<span class="t" style="left:248.7px;top:1282.8px;font-size:49px;color:#4D4D4D;transform:scaleX(0.8473);-webkit-text-stroke:0.5px #4D4D4D;">15</span>
<span class="t" style="left:247.6px;top:1431.5px;font-size:49px;color:#4D4D4D;transform:scaleX(0.8867);-webkit-text-stroke:0.5px #4D4D4D;">10</span>
<span class="t" style="left:269.3px;top:1581.0px;font-size:49px;color:#4D4D4D;transform:scaleX(0.9412);-webkit-text-stroke:0.5px #4D4D4D;">5</span>
<span class="t" style="left:270.0px;top:1731.5px;font-size:49px;color:#4D4D4D;transform:scaleX(0.9510);-webkit-text-stroke:0.5px #4D4D4D;">0</span>
<span class="t" style="left:626.6px;top:1786.5px;font-size:64px;color:#4D4D4D;transform:scaleX(0.8991);-webkit-text-stroke:1.3px #4D4D4D;">Public</span>
<span class="t" style="left:1208.7px;top:1786.5px;font-size:64px;color:#4D4D4D;transform:scaleX(0.9088);-webkit-text-stroke:1.3px #4D4D4D;">Private</span>
<span class="t" style="left:542.1px;top:1154.0px;font-size:58px;font-style:italic;color:#B3862E;transform:scaleX(0.8213);-webkit-text-stroke:1.0px #B3862E;">17.8</span>
<span class="t" style="left:663.6px;top:1160.5px;font-size:58px;font-style:italic;color:#CB7383;transform:scaleX(0.8331);-webkit-text-stroke:1.0px #CB7383;">17.4</span>
<span class="t" style="left:773.5px;top:1254.8px;font-size:58px;font-style:italic;color:#B87AB8;transform:scaleX(0.9048);-webkit-text-stroke:1.0px #B87AB8;">14.4</span>
<span class="t" style="left:1119.9px;top:1016.4px;font-size:58px;font-style:italic;color:#B3862E;transform:scaleX(1.0050);-webkit-text-stroke:1.0px #B3862E;">22.2</span>
<span class="t" style="left:1243.9px;top:1050.5px;font-size:58px;font-style:italic;color:#CB7383;transform:scaleX(0.9526);-webkit-text-stroke:1.0px #CB7383;">21.0</span>
<span class="t" style="left:1372.1px;top:1146.4px;font-size:58px;font-style:italic;color:#B87AB8;transform:scaleX(0.8355);-webkit-text-stroke:1.0px #B87AB8;">17.9</span>
</section>
<article>
<p><span class="t" style="left:1923.7px;top:710.0px;font-size:73px;color:#4D4D4D;transform:scaleX(0.9797);-webkit-text-stroke:1.4px #4D4D4D;">When</span> <span class="t" style="left:2130.6px;top:710.0px;font-size:73px;color:#4D4D4D;transform:scaleX(1.0097);-webkit-text-stroke:1.4px #4D4D4D;">looking</span> <span class="t" style="left:2385.4px;top:710.0px;font-size:73px;color:#4D4D4D;transform:scaleX(0.8627);-webkit-text-stroke:1.4px #4D4D4D;">at</span> <span class="t" style="left:2462.9px;top:710.0px;font-size:73px;color:#4D4D4D;transform:scaleX(0.9287);-webkit-text-stroke:1.4px #4D4D4D;">the</span> <span class="t" style="left:2579.8px;top:710.0px;font-size:73px;color:#4D4D4D;transform:scaleX(0.9404);-webkit-text-stroke:1.4px #4D4D4D;">establishment</span>
</p><p><span class="t" style="left:1822.3px;top:805.5px;font-size:73px;color:#4D4D4D;transform:scaleX(0.9844);-webkit-text-stroke:1.4px #4D4D4D;">type,</span> <span class="t" style="left:2002.3px;top:805.5px;font-size:73px;color:#4D4D4D;transform:scaleX(0.9226);-webkit-text-stroke:1.4px #4D4D4D;">the</span> <span class="t" style="left:2120.7px;top:805.5px;font-size:73px;color:#4D4D4D;transform:scaleX(0.8974);-webkit-text-stroke:1.4px #4D4D4D;">number</span> <span class="t" style="left:2375.1px;top:805.5px;font-size:73px;color:#4D4D4D;transform:scaleX(0.8967);-webkit-text-stroke:1.4px #4D4D4D;">of</span> <span class="t" style="left:2458.0px;top:805.5px;font-size:73px;color:#4D4D4D;transform:scaleX(0.9023);-webkit-text-stroke:1.4px #4D4D4D;">students</span> <span class="t" style="left:2730.8px;top:805.5px;font-size:73px;color:#4D4D4D;transform:scaleX(0.8714);-webkit-text-stroke:1.4px #4D4D4D;">per</span> <span class="t" style="left:2851.5px;top:805.5px;font-size:73px;color:#4D4D4D;transform:scaleX(0.9241);-webkit-text-stroke:1.4px #4D4D4D;">class</span>
</p><p><span class="t" style="left:1993.0px;top:901.0px;font-size:73px;color:#4D4D4D;transform:scaleX(0.8968);-webkit-text-stroke:1.4px #4D4D4D;">in</span> <span class="t" style="left:2068.3px;top:901.0px;font-size:73px;color:#4D4D4D;transform:scaleX(0.9854);-webkit-text-stroke:1.4px #4D4D4D;">public</span> <span class="t" style="left:2280.6px;top:901.0px;font-size:73px;color:#4D4D4D;transform:scaleX(0.9798);-webkit-text-stroke:1.4px #4D4D4D;">kindergartens</span> <span class="t" style="left:2740.1px;top:901.0px;font-size:73px;color:#4D4D4D;transform:scaleX(0.9590);-webkit-text-stroke:1.4px #4D4D4D;">maintain</span>
</p><p><span class="t" style="left:1847.3px;top:996.5px;font-size:73px;color:#4D4D4D;transform:scaleX(0.8954);-webkit-text-stroke:1.4px #4D4D4D;">similar</span> <span class="t" style="left:2072.1px;top:996.5px;font-size:73px;color:#4D4D4D;transform:scaleX(0.9363);-webkit-text-stroke:1.4px #4D4D4D;">size,</span> <span class="t" style="left:2231.4px;top:996.5px;font-size:73px;color:#4D4D4D;transform:scaleX(0.9584);-webkit-text-stroke:1.4px #4D4D4D;">but</span> <span class="t" style="left:2354.6px;top:996.5px;font-size:73px;color:#4D4D4D;transform:scaleX(0.8545);-webkit-text-stroke:1.4px #4D4D4D;">in</span> <span class="t" style="left:2425.0px;top:996.5px;font-size:73px;color:#4D4D4D;transform:scaleX(0.9116);-webkit-text-stroke:1.4px #4D4D4D;">the</span> <span class="t" style="left:2541.0px;top:996.5px;font-size:73px;color:#4D4D4D;transform:scaleX(0.9340);-webkit-text-stroke:1.4px #4D4D4D;">recent</span> <span class="t" style="left:2755.2px;top:996.5px;font-size:73px;color:#4D4D4D;transform:scaleX(0.8770);-webkit-text-stroke:1.4px #4D4D4D;">5</span> <span class="t" style="left:2816.4px;top:996.5px;font-size:73px;color:#4D4D4D;transform:scaleX(0.9649);-webkit-text-stroke:1.4px #4D4D4D;">years,</span>
</p><p><span class="t" style="left:1871.2px;top:1092.0px;font-size:73px;color:#4D4D4D;transform:scaleX(0.9045);-webkit-text-stroke:1.4px #4D4D4D;">the</span> <span class="t" style="left:1984.9px;top:1092.0px;font-size:73px;color:#4D4D4D;transform:scaleX(0.8974);-webkit-text-stroke:1.4px #4D4D4D;">number</span> <span class="t" style="left:2242.1px;top:1092.0px;font-size:73px;color:#4D4D4D;transform:scaleX(0.8967);-webkit-text-stroke:1.4px #4D4D4D;">of</span> <span class="t" style="left:2327.9px;top:1092.0px;font-size:73px;color:#4D4D4D;transform:scaleX(0.9019);-webkit-text-stroke:1.4px #4D4D4D;">students</span> <span class="t" style="left:2600.6px;top:1092.0px;font-size:73px;color:#4D4D4D;transform:scaleX(0.8831);-webkit-text-stroke:1.4px #4D4D4D;">per</span> <span class="t" style="left:2721.4px;top:1092.0px;font-size:73px;color:#4D4D4D;transform:scaleX(0.9173);-webkit-text-stroke:1.4px #4D4D4D;">class</span> <span class="t" style="left:2896.6px;top:1092.0px;font-size:73px;color:#4D4D4D;transform:scaleX(0.9221);-webkit-text-stroke:1.4px #4D4D4D;">has</span>
</p><p><span class="t" style="left:2221.8px;top:1187.5px;font-size:73px;color:#4D4D4D;transform:scaleX(0.9614);-webkit-text-stroke:1.4px #4D4D4D;">decreased</span> <span class="t" style="left:2572.5px;top:1187.5px;font-size:73px;color:#4D4D4D;transform:scaleX(0.8147);-webkit-text-stroke:1.4px #4D4D4D;">by</span> <span class="t" style="left:2670.3px;top:1187.5px;font-size:73px;color:#4D4D4D;transform:scaleX(0.8636);-webkit-text-stroke:1.4px #4D4D4D;">3</span> <span class="t" style="left:2735.3px;top:1187.5px;font-size:73px;color:#4D4D4D;transform:scaleX(0.9141);-webkit-text-stroke:1.4px #4D4D4D;">students.</span></p>
<p><span class="t" style="left:1905.8px;top:1381.0px;font-size:73px;color:#CB7383;transform:scaleX(0.8269);-webkit-text-stroke:1.4px #CB7383;">The</span> <span class="t" style="left:2031.8px;top:1381.0px;font-size:73px;color:#CB7383;transform:scaleX(0.9023);-webkit-text-stroke:1.4px #CB7383;">number</span> <span class="t" style="left:2290.2px;top:1381.0px;font-size:73px;color:#CB7383;transform:scaleX(0.8967);-webkit-text-stroke:1.4px #CB7383;">of</span> <span class="t" style="left:2376.0px;top:1381.0px;font-size:73px;color:#CB7383;transform:scaleX(0.9019);-webkit-text-stroke:1.4px #CB7383;">students</span> <span class="t" style="left:2648.7px;top:1381.0px;font-size:73px;color:#CB7383;transform:scaleX(0.8831);-webkit-text-stroke:1.4px #CB7383;">per</span> <span class="t" style="left:2770.1px;top:1381.0px;font-size:73px;color:#CB7383;transform:scaleX(0.9136);-webkit-text-stroke:1.4px #CB7383;">class</span> <span class="t" style="left:2949.5px;top:1381.0px;font-size:73px;color:#CB7383;transform:scaleX(0.8695);-webkit-text-stroke:1.4px #CB7383;">at</span>
</p><p><span class="t" style="left:1814.8px;top:1476.7px;font-size:73px;color:#CB7383;transform:scaleX(0.9738);-webkit-text-stroke:1.4px #CB7383;">private</span> <span class="t" style="left:2052.6px;top:1476.7px;font-size:73px;color:#CB7383;transform:scaleX(0.9810);-webkit-text-stroke:1.4px #CB7383;">kindergartens</span> <span class="t" style="left:2512.0px;top:1476.7px;font-size:73px;color:#CB7383;transform:scaleX(0.9074);-webkit-text-stroke:1.4px #CB7383;">also</span> <span class="t" style="left:2659.0px;top:1476.7px;font-size:73px;color:#CB7383;transform:scaleX(0.9669);-webkit-text-stroke:1.4px #CB7383;">decreased,</span>
</p><p><span class="t" style="left:1858.9px;top:1572.3px;font-size:73px;color:#CB7383;transform:scaleX(0.9321);-webkit-text-stroke:1.4px #CB7383;">but</span> <span class="t" style="left:1978.3px;top:1572.3px;font-size:73px;color:#CB7383;transform:scaleX(0.8418);-webkit-text-stroke:1.4px #CB7383;">it</span> <span class="t" style="left:2033.5px;top:1572.3px;font-size:73px;color:#CB7383;transform:scaleX(0.9056);-webkit-text-stroke:1.4px #CB7383;">needs</span> <span class="t" style="left:2238.2px;top:1572.3px;font-size:73px;color:#CB7383;transform:scaleX(0.9645);-webkit-text-stroke:1.4px #CB7383;">to</span> <span class="t" style="left:2320.2px;top:1572.3px;font-size:73px;color:#CB7383;transform:scaleX(0.9676);-webkit-text-stroke:1.4px #CB7383;">improve</span> <span class="t" style="left:2594.4px;top:1572.3px;font-size:73px;color:#CB7383;transform:scaleX(0.9838);-webkit-text-stroke:1.4px #CB7383;">continuously,</span>
</p><p><span class="t" style="left:1831.0px;top:1668.0px;font-size:73px;color:#CB7383;transform:scaleX(0.8507);-webkit-text-stroke:1.4px #CB7383;">as</span> <span class="t" style="left:1919.4px;top:1668.0px;font-size:73px;color:#CB7383;transform:scaleX(0.9861);-webkit-text-stroke:1.4px #CB7383;">compared</span> <span class="t" style="left:2262.6px;top:1668.0px;font-size:73px;color:#CB7383;transform:scaleX(0.9356);-webkit-text-stroke:1.4px #CB7383;">to</span> <span class="t" style="left:2342.9px;top:1668.0px;font-size:73px;color:#CB7383;transform:scaleX(0.9789);-webkit-text-stroke:1.4px #CB7383;">public</span> <span class="t" style="left:2555.1px;top:1668.0px;font-size:73px;color:#CB7383;transform:scaleX(0.9757);-webkit-text-stroke:1.4px #CB7383;">kindergartens.</span></p>
</article>
<svg class="layer" viewBox="0 0 3125 2500">
<g id="teacher1"><path d="M258.1 2201.9L306.1 2211.6L300.3 2230.0L295.2 2246.7L223.7 2391.9L196.3 2380.3L251.8 2230.0Z" fill="#FFFFFF"/><path d="M358.0 2214.4L402.8 2210.9L407.1 2230.0L431.7 2393.6L403.8 2398.3L362.0 2230.0Z" fill="#FFFFFF"/><path d="M276.2 2207.2L266.9 2230.0L208.7 2385.3" fill="none" stroke="#2A2320" stroke-width="1.2" stroke-linecap="round" stroke-linejoin="round"/><path d="M367.3 2216.2C370.1 2221.4 371.5 2226.9 372.0 2230.0L410.5 2396.1" fill="none" stroke="#2A2320" stroke-width="1.2" stroke-linecap="round" stroke-linejoin="round"/><path d="M196.4 2381.1L223.8 2392.3L220.1 2398.6C228.4 2403.7 236.8 2407.8 241.8 2411.2C244.3 2412.8 244.8 2415.3 244.3 2416.7C243.5 2420.4 240.1 2422.0 236.8 2422.0C234.3 2422.0 232.1 2420.7 230.1 2420.0L186.7 2397.0C187.5 2393.6 189.2 2390.3 190.9 2387.8Z" fill="#EF8C48"/><path d="M188.0 2394.5L231.8 2418.7C236.8 2420.4 241.8 2418.7 243.8 2415.3" fill="none" stroke="#2A2320" stroke-width="1.3" stroke-linecap="round" stroke-linejoin="round"/><path d="M195.0 2382.8C199.2 2387.0 200.1 2392.8 198.4 2398.6" fill="none" stroke="#2A2320" stroke-width="1.3" stroke-linecap="round" stroke-linejoin="round"/><path d="M217.6 2392.0L222.6 2394.5M216.8 2397.0L221.8 2398.6M219.3 2400.3L224.3 2402.8M222.6 2403.7L227.6 2406.2M225.9 2406.2L230.4 2409.5M232.6 2416.7C233.5 2412.8 236.0 2410.3 238.5 2410.0" fill="none" stroke="#2A2320" stroke-width="1.3" stroke-linecap="round" stroke-linejoin="round"/><path d="M403.8 2398.3L431.8 2394.0L433.8 2397.0C443.8 2398.6 453.9 2399.5 460.5 2400.6C464.7 2402.0 466.4 2405.3 466.4 2412.0L407.1 2421.2C405.4 2413.7 404.1 2405.3 403.8 2398.3Z" fill="#EF8C48"/><path d="M406.3 2417.8L466.4 2409.0" fill="none" stroke="#2A2320" stroke-width="1.3" stroke-linecap="round" stroke-linejoin="round"/><path d="M404.1 2405.0C410.4 2405.3 415.5 2410.3 417.5 2416.2" fill="none" stroke="#2A2320" stroke-width="1.3" stroke-linecap="round" stroke-linejoin="round"/><path d="M428.0 2397.0L433.0 2395.3M431.3 2402.0L434.7 2398.3M437.2 2403.7L439.7 2399.5M442.2 2404.0L444.7 2400.0M447.2 2404.0L449.2 2400.3M452.2 2404.0L453.9 2400.6M458.0 2400.6C455.5 2404.5 454.7 2407.8 455.5 2410.7" fill="none" stroke="#2A2320" stroke-width="1.3" stroke-linecap="round" stroke-linejoin="round"/><path d="M283.8 1917.3C277.6 1920.1 274.8 1923.6 272.7 1927.8L233.0 2006.7L200.1 2085.0L220.0 2086.7L250.0 2032.9L281.7 1976.7L287.3 1943.1Z" fill="#EF8C48"/><path d="M311.7 1906.9L283.8 1917.3L281.7 1998.7L379.8 1998.7L379.1 1920.8L370.1 1911.1L355.5 1906.2L347.1 1911.1C343.0 1915.2 337.4 1918.7 333.2 1918.7C324.9 1918.7 316.5 1912.4 311.7 1906.9Z" fill="#EF8C48"/><path d="M370.1 1911.1C373.6 1912.4 377.1 1916.6 379.1 1920.8L407.0 1975.1L469.6 1945.8L479.3 1959.1L411.1 2009.9C407.0 2013.3 402.8 2012.6 400.0 2011.2L379.8 2001.5L372.2 1998.7L372.2 1915.2Z" fill="#EF8C48"/><path d="M409.1 1978.5C405.6 1982.0 403.5 1986.2 402.8 1989.7" fill="none" stroke="#2A2320" stroke-width="1.3" stroke-linecap="round" stroke-linejoin="round"/><path d="M200.1 2085.0C195.5 2090.6 191.3 2097.5 191.7 2103.4C192.0 2110.0 193.4 2114.2 195.1 2115.0C199.6 2118.4 205.2 2119.5 208.3 2118.9C212.2 2117.0 216.3 2115.6 218.3 2113.4C219.1 2110.0 219.1 2108.6 217.7 2107.3C221.9 2105.9 224.7 2104.5 224.0 2101.7C223.3 2096.1 221.2 2090.6 220.0 2086.7Z" fill="#F7CDB6"/><path d="M469.6 1945.8C471.7 1940.3 475.2 1934.7 479.3 1931.9C483.5 1927.8 489.1 1926.4 493.2 1927.1C497.4 1925.7 501.6 1929.1 502.3 1933.3C505.1 1936.1 505.8 1941.7 503.7 1944.5C503.7 1948.6 500.9 1951.4 498.1 1952.1C496.0 1954.9 490.5 1957.0 479.3 1959.1Z" fill="#F7CDB6"/><path d="M482.8 1945.8L490.5 1934.7L496.0 1941.0M489.8 1935.4L497.4 1951.4M491.9 1934.0L498.8 1930.5M493.9 1939.6L503.0 1935.4M495.3 1947.9L504.4 1941.7" fill="none" stroke="#2A2320" stroke-width="1.2" stroke-linecap="round" stroke-linejoin="round"/><path d="M283.8 1917.3L299.8 1909.9L310.3 1960.5L356.2 1957.7L355.5 1906.2L370.1 1911.1L375.7 1943.1L379.8 1977.8L379.8 2040.9L381.9 2052.0L393.1 2100.7L404.2 2145.2L416.0 2207.9C379.1 2217.2 337.4 2216.2 258.1 2203.7L265.0 2159.2L274.8 2103.5L281.7 2047.8L281.0 2020.0L281.7 1991.8L285.9 1957.0Z" fill="#F4C265"/><path d="M288.7 2061.1L332.5 2059.4C336.0 2072.5 336.0 2085.0 333.2 2096.1C329.1 2110.0 319.3 2116.3 309.6 2116.7C298.4 2116.3 291.5 2107.3 289.0 2093.3C287.3 2082.2 288.0 2071.1 288.7 2061.1Z" fill="#F9E095"/><path d="M358.0 2056.5L382.6 2055.5L393.8 2107.0C388.9 2110.0 383.3 2111.8 377.8 2111.8C368.0 2110.0 361.1 2101.7 358.3 2087.8C356.6 2078.0 356.9 2066.9 358.0 2056.5Z" fill="#F9E095"/><path d="M299.1 2084.0C302.6 2079.4 308.2 2076.6 311.7 2076.4C316.5 2082.2 322.1 2096.1 324.2 2104.5C323.5 2106.6 321.4 2107.5 320.0 2107.0C313.7 2100.3 302.6 2090.6 299.1 2084.0Z" fill="#E08244"/><path d="M303.3 2080.1C301.2 2076.6 298.4 2075.2 293.6 2073.9C292.2 2072.5 293.6 2070.4 295.7 2071.1C295.0 2068.3 297.0 2067.6 299.1 2068.7C300.5 2066.9 303.3 2067.6 303.3 2070.4C305.4 2069.7 308.2 2071.1 307.5 2074.6C307.9 2076.6 306.8 2078.0 305.4 2078.7Z" fill="#8DB14F"/><ellipse cx="361.8" cy="1950.0" rx="4.5" ry="13.2" fill="#FFFFFF" transform="rotate(-3 361.8 1950.0)"/><ellipse cx="376.6" cy="1952.8" rx="3.8" ry="12.8" fill="#FFFFFF" transform="rotate(24 376.6 1952.8)"/><ellipse cx="363.8" cy="1972.3" rx="12.9" ry="12.9" fill="#FFFFFF"/><ellipse cx="358.3" cy="1968.5" rx="1.8" ry="1.5" fill="#F3B6D9"/><ellipse cx="370.5" cy="1971.3" rx="1.8" ry="1.5" fill="#F3B6D9"/><ellipse cx="363.1" cy="1974.0" rx="1.4" ry="1.0" fill="#F3B6D9"/><path d="M358.3 1975.1C360.4 1979.9 365.9 1979.9 368.0 1977.2" fill="none" stroke="#2A2320" stroke-width="1.2" stroke-linecap="round" stroke-linejoin="round"/><path d="M340.2 1808.8C323.5 1808.8 309.6 1816.4 303.3 1830.4C299.8 1840.1 299.8 1849.8 297.0 1858.2C292.9 1865.1 283.1 1869.3 283.1 1876.3C283.1 1883.2 288.7 1887.4 295.7 1888.1L315.1 1890.9L362.4 1892.3C372.2 1890.2 380.5 1887.4 382.9 1879.1C383.3 1873.5 379.1 1867.9 379.1 1862.4C378.5 1851.2 377.8 1842.9 377.1 1835.9C375.7 1824.8 368.0 1813.7 359.7 1812.3C354.1 1809.5 347.1 1808.8 340.2 1808.8Z" fill="#926C3B"/><path d="M315.8 1840.1C329.1 1838.7 351.3 1835.9 366.6 1830.4C370.1 1835.9 371.9 1845.7 371.5 1854.0C371.5 1862.4 370.1 1872.1 368.0 1879.1C365.9 1886.0 362.4 1891.6 358.3 1895.1C354.1 1897.8 349.9 1897.8 346.4 1897.8L346.4 1909.7C343.0 1915.2 337.4 1918.7 333.2 1918.7C324.9 1918.7 316.5 1912.4 311.7 1906.9L315.1 1893.0L315.8 1873.5Z" fill="#F7CDB6"/><ellipse cx="310.3" cy="1855.4" rx="5.0" ry="7.8" fill="#F7CDB6"/><path d="M315.1 1831.5C329.1 1827.6 345.8 1822.0 349.9 1813.7M314.4 1838.7C334.6 1834.5 356.9 1829.0 360.4 1821.3M304.0 1861.7C301.2 1869.3 292.9 1873.5 292.2 1879.1C292.2 1883.2 294.3 1886.0 295.7 1887.4M309.6 1872.1C306.8 1876.3 304.7 1881.8 306.8 1889.5" fill="none" stroke="#2A2320" stroke-width="1.2" stroke-linecap="round" stroke-linejoin="round"/><path d="M336.0 1845.7C340.2 1842.9 347.1 1842.9 350.6 1846.4M358.3 1845.0C361.1 1842.9 365.2 1842.6 368.0 1844.5" fill="none" stroke="#2A2320" stroke-width="1.2" stroke-linecap="round" stroke-linejoin="round"/><ellipse cx="346.4" cy="1854.4" rx="3.5" ry="4.7" fill="#FFFFFF"/><ellipse cx="364.8" cy="1854.4" rx="3.3" ry="4.7" fill="#FFFFFF"/><ellipse cx="346.4" cy="1854.4" rx="2.4" ry="3.6" fill="#2A2320"/><ellipse cx="364.8" cy="1854.4" rx="2.2" ry="3.6" fill="#2A2320"/><path d="M357.6 1849.8L363.1 1867.2L355.5 1868.6" fill="none" stroke="#2A2320" stroke-width="1.2" stroke-linecap="round" stroke-linejoin="round"/><ellipse cx="335.3" cy="1865.1" rx="8.3" ry="5.8" fill="#F2B8A6"/><path d="M344.6 1873.2L363.8 1874.6C363.1 1880.4 359.7 1886.7 354.1 1887.4C349.2 1887.4 345.5 1881.8 344.6 1873.2Z" fill="#FFFFFF" stroke="#2A2320" stroke-width="1.3" stroke-linecap="round" stroke-linejoin="round"/><path d="M321.4 1881.1C326.3 1890.2 336.0 1895.8 345.8 1897.4" fill="none" stroke="#2A2320" stroke-width="1.3" stroke-linecap="round" stroke-linejoin="round"/></g>
<g id="kid1"><path d="M599.8 2298.8L652.7 2296.4L657.2 2323.2L594.0 2323.2Z" fill="#F5CF45"/><path d="M593.6 2320.0L592.2 2359.0C584.5 2365.9 574.8 2375.7 567.8 2385.4L565.7 2392.4L579.0 2403.5C585.9 2399.3 601.2 2386.8 609.6 2378.4C615.1 2368.7 620.7 2354.8 624.9 2345.7L632.5 2345.7C636.0 2372.9 644.4 2400.7 654.8 2417.4L670.8 2414.6C671.5 2397.9 665.2 2359.0 657.6 2320.0Z" fill="#F5CF45"/><path d="M632.5 2345.0C638.8 2341.6 645.8 2337.4 648.3 2331.8" fill="none" stroke="#2A2320" stroke-width="1.1" stroke-linecap="round" stroke-linejoin="round"/><path d="M565.7 2392.4L563.0 2395.8L572.0 2407.0L579.0 2403.5Z" fill="#FFFFFF"/><path d="M654.8 2417.4L670.8 2414.6L671.5 2420.2L665.2 2426.0L656.6 2423.7Z" fill="#FFFFFF"/><path d="M562.3 2395.1C558.8 2397.9 556.0 2401.4 556.4 2403.5C562.3 2411.8 573.4 2421.6 580.4 2425.8C583.1 2425.8 584.2 2421.6 583.8 2417.4C581.7 2413.2 579.0 2410.4 576.2 2407.0L572.0 2406.5Z" fill="#4A9A2F"/><path d="M571.7 2409.1L576.5 2407.0L580.6 2411.8L575.5 2413.9Z" fill="#FFFFFF"/><path d="M656.2 2424.1L657.6 2433.4C669.4 2432.7 684.7 2429.9 691.7 2427.1C692.4 2423.7 687.5 2420.2 681.9 2420.2C677.8 2420.2 673.6 2422.3 669.4 2423.7L665.2 2426.0Z" fill="#4A9A2F"/><path d="M672.9 2425.1L677.1 2420.9L681.2 2421.3L677.1 2425.5Z" fill="#FFFFFF"/><path d="M615.8 2212.5C606.8 2213.2 595.7 2216.0 592.2 2221.6L581.7 2252.2C580.4 2266.1 581.0 2287.0 583.1 2296.0L599.8 2298.1L609.6 2231.3Z" fill="#EE8433"/><path d="M560.2 2185.4C556.7 2179.8 553.9 2174.3 551.8 2168.7C553.2 2167.3 555.3 2168.7 556.7 2172.2C556.0 2167.3 556.7 2163.1 558.8 2161.7C560.9 2161.7 560.9 2165.9 561.6 2168.7C562.3 2164.5 563.0 2161.0 565.0 2161.0C567.1 2161.7 566.4 2165.9 566.4 2170.1C567.8 2168.0 570.6 2166.6 572.7 2168.7C572.0 2174.3 569.9 2179.8 569.9 2183.3Z" fill="#F7CDB6"/><path d="M560.2 2185.4L569.9 2183.3C573.4 2195.1 580.4 2206.3 587.3 2214.6C591.5 2220.2 595.7 2223.7 601.2 2225.8L601.2 2255.7C592.9 2253.6 581.7 2246.6 574.8 2235.5C566.4 2223.0 560.9 2206.3 560.2 2185.4Z" fill="#FCEE55"/><path d="M609.6 2229.9L605.4 2259.1L598.4 2280.0L595.0 2292.5L599.8 2299.1L623.5 2298.4L652.7 2296.7L658.3 2284.2L658.3 2259.1L651.3 2231.3L647.4 2222.3Z" fill="#FCEE55"/><path d="M651.3 2231.3C655.5 2227.1 658.3 2229.9 661.1 2234.1C669.4 2245.2 681.9 2260.5 693.1 2273.1L689.6 2282.8C679.1 2278.6 669.4 2274.5 661.1 2268.9L658.3 2259.1Z" fill="#FCEE55"/><path d="M693.1 2272.4L689.6 2282.8C691.7 2287.0 695.8 2290.5 700.0 2291.8C704.2 2293.2 708.4 2292.5 711.8 2291.8C713.2 2289.1 713.9 2287.0 715.6 2285.6C715.3 2282.1 712.5 2280.0 709.1 2279.3C705.6 2277.9 701.4 2277.2 698.6 2275.8Z" fill="#F7CDB6"/><path d="M693.1 2272.4L689.6 2282.8C691.0 2285.6 693.8 2287.7 696.5 2289.1C695.8 2284.2 696.5 2278.6 698.6 2275.8Z" fill="#EDB9A0"/><path d="M712.3 2284.5L713.0 2287.7" fill="none" stroke="#2A2320" stroke-width="1.1" stroke-linecap="round" stroke-linejoin="round"/><path d="M647.1 2220.2L654.8 2220.9C658.3 2231.3 661.8 2252.2 662.4 2267.5L659.0 2273.1C658.3 2252.2 655.5 2234.1 649.9 2225.8Z" fill="#EE8433"/><path d="M601.2 2225.8L609.6 2231.3C612.4 2245.2 605.4 2266.1 597.0 2278.6L593.6 2279.3C591.5 2277.2 591.5 2275.1 592.2 2273.1C598.4 2259.1 601.2 2245.2 601.2 2225.8Z" fill="#EE8433"/><path d="M599.8 2256.4L592.2 2273.8C591.2 2276.5 592.2 2278.6 593.6 2279.3L597.0 2279.3" fill="none" stroke="#2A2320" stroke-width="1.1" stroke-linecap="round" stroke-linejoin="round"/><path d="M615.8 2220.5L617.9 2209.1L643.0 2216.0L639.9 2219.6C636.0 2227.1 623.5 2227.8 615.8 2220.5Z" fill="#F7CDB6"/><path d="M615.8 2220.5C610.3 2221.3 605.7 2225.1 606.1 2230.2C607.1 2236.2 614.4 2241.1 621.4 2241.1C626.3 2240.4 629.7 2236.2 631.1 2232.4C632.9 2236.6 636.7 2239.0 640.9 2238.6C645.8 2236.9 648.8 2229.9 647.4 2221.9L639.9 2219.6C636.0 2227.1 623.5 2227.8 615.8 2220.5Z" fill="#FFFFFF"/><path d="M640.9 2250.1L651.3 2248.7L651.7 2252.9L641.3 2254.3Z" fill="#FFFFFF"/><path d="M605.4 2181.2C601.2 2182.6 599.8 2186.8 601.9 2189.6C599.8 2192.4 601.2 2196.5 604.7 2197.2C604.7 2200.7 608.2 2202.8 611.7 2201.8C613.1 2204.2 615.8 2204.9 617.9 2203.5L617.9 2186.8Z" fill="#5C3A1A"/><path d="M655.5 2172.9C659.7 2173.6 662.4 2175.7 662.2 2179.1C665.2 2180.5 666.6 2184.7 664.5 2187.5C665.9 2191.0 663.8 2194.4 660.4 2194.4C659.7 2196.5 657.6 2196.8 656.2 2195.8L654.8 2181.2Z" fill="#5C3A1A"/><path d="M615.8 2185.4C615.1 2193.7 615.8 2203.5 619.3 2210.4C623.5 2217.4 630.4 2220.2 637.4 2220.2C645.8 2219.5 652.7 2214.6 655.5 2206.3C657.6 2199.3 658.3 2189.6 656.2 2179.8L637.4 2175.7Z" fill="#F7CDB6"/><ellipse cx="615.1" cy="2193.5" rx="3.1" ry="3.6" fill="#F7CDB6"/><path d="M601.2 2186.1L631.8 2178.2L629.1 2181.2L623.5 2182.9L617.9 2187.5Z" fill="#5C3A1A"/><path d="M615.1 2185.4C617.9 2181.2 622.1 2182.6 623.5 2179.8C626.3 2181.9 630.4 2181.2 632.5 2178.4C636.0 2180.5 640.2 2179.8 642.3 2177.3C645.8 2179.1 649.9 2178.4 652.0 2175.9C654.1 2177.0 656.2 2176.4 657.6 2175.0L656.9 2170.1L612.4 2181.2Z" fill="#5C3A1A"/><ellipse cx="633.5" cy="2191.7" rx="3.3" ry="4.5" fill="#FFFFFF"/><ellipse cx="633.5" cy="2191.7" rx="2.4" ry="3.5" fill="#2A2320"/><ellipse cx="649.9" cy="2190.3" rx="3.3" ry="4.5" fill="#FFFFFF"/><ellipse cx="649.9" cy="2190.3" rx="2.4" ry="3.5" fill="#2A2320"/><path d="M630.4 2183.3C632.5 2181.2 635.3 2181.9 636.7 2184.0M646.4 2182.6C648.5 2180.5 651.3 2180.9 653.0 2182.6M642.3 2193.1C645.1 2193.7 645.1 2197.9 640.9 2198.2" fill="none" stroke="#2A2320" stroke-width="1.1" stroke-linecap="round" stroke-linejoin="round"/><ellipse cx="629.1" cy="2201.4" rx="6.7" ry="5.3" fill="#F2B8A6"/><ellipse cx="652.0" cy="2199.3" rx="4.9" ry="4.5" fill="#F2B8A6"/><path d="M635.3 2204.2C639.5 2207.7 644.4 2207.0 647.4 2203.8" fill="none" stroke="#2A2320" stroke-width="1.2" stroke-linecap="round" stroke-linejoin="round"/><path d="M621.1 2210.4C623.5 2216.0 630.4 2219.5 638.1 2220.2" fill="none" stroke="#2A2320" stroke-width="1.2" stroke-linecap="round" stroke-linejoin="round"/><path d="M599.1 2186.5C598.2 2181.2 599.8 2175.7 603.3 2173.6C605.4 2164.5 615.1 2153.4 629.1 2149.9C643.0 2147.1 652.7 2154.8 656.9 2164.5C661.1 2167.3 664.5 2170.4 665.5 2172.9C654.1 2172.9 623.5 2178.4 599.1 2186.5Z" fill="#FBEA53"/><path d="M603.3 2173.6C619.3 2166.6 640.2 2163.1 656.6 2164.8" fill="none" stroke="#2A2320" stroke-width="1.1" stroke-linecap="round" stroke-linejoin="round"/></g>
<g id="kid2"><path d="M726.5 2276.5L782.1 2274.5L790.2 2323.2L721.3 2323.2Z" fill="#F5CF45"/><path d="M720.9 2320.0L720.2 2336.7C711.1 2346.4 700.0 2357.6 695.8 2364.5L694.5 2370.1L706.3 2381.2C715.3 2378.4 729.2 2365.9 740.4 2353.4C745.9 2342.3 750.1 2331.1 753.6 2323.1L761.0 2323.1C764.0 2347.8 771.0 2375.7 783.5 2395.8L798.8 2393.1C800.2 2378.4 796.0 2347.8 790.5 2320.0Z" fill="#F5CF45"/><path d="M761.0 2322.9C768.2 2319.0 774.5 2314.8 776.5 2309.5" fill="none" stroke="#2A2320" stroke-width="1.1" stroke-linecap="round" stroke-linejoin="round"/><path d="M694.5 2370.1L691.4 2373.6L697.2 2384.3L706.3 2381.2Z" fill="#FFFFFF"/><path d="M783.5 2395.8L798.8 2393.1L799.5 2398.6L793.2 2404.5L784.9 2402.4Z" fill="#FFFFFF"/><path d="M691.0 2372.9C687.5 2375.7 684.7 2378.4 684.7 2381.2C690.3 2389.6 702.8 2400.7 709.1 2404.2C711.8 2403.5 713.2 2399.3 712.5 2395.8C710.5 2391.0 707.0 2386.8 704.2 2384.0L697.2 2384.3Z" fill="#DE6FD0"/><path d="M699.3 2386.8L704.9 2384.7L709.1 2390.3L703.5 2392.1Z" fill="#FFFFFF"/><path d="M784.2 2402.1L786.0 2411.8C797.4 2411.1 812.7 2408.4 820.4 2404.9C820.4 2401.4 815.5 2397.9 810.6 2398.2C805.8 2398.6 802.3 2400.7 798.1 2402.1L793.2 2404.5Z" fill="#DE6FD0"/><path d="M800.9 2403.2L805.1 2399.0L809.9 2399.0L805.1 2403.5Z" fill="#FFFFFF"/><path d="M748.7 2161.7C740.4 2164.5 733.4 2168.7 728.1 2171.8C727.2 2175.0 724.4 2176.4 723.4 2179.1C720.9 2181.2 719.5 2183.3 718.1 2186.1C715.6 2188.2 713.9 2190.3 713.7 2193.5C713.9 2196.3 717.4 2196.8 720.2 2195.8C726.5 2193.7 734.8 2192.4 744.5 2191.0L741.8 2172.9Z" fill="#5C3A1A"/><path d="M782.1 2151.3C787.0 2154.8 789.1 2165.9 787.7 2178.4C786.3 2184.0 783.5 2188.2 782.1 2189.6L776.5 2153.4Z" fill="#5C3A1A"/><path d="M744.5 2191.0C734.8 2191.7 723.7 2195.1 720.2 2200.7L710.5 2227.1L719.5 2259.1L717.4 2275.1L726.5 2276.5L741.8 2210.4Z" fill="#EE8433"/><path d="M775.9 2199.3L783.5 2200.0C787.7 2210.4 790.5 2231.3 791.2 2245.2L787.7 2251.5C787.0 2231.3 784.2 2214.6 778.6 2204.9Z" fill="#EE8433"/><path d="M814.4 2191.2C812.7 2186.8 811.3 2182.6 810.2 2179.1C811.3 2177.7 813.4 2178.4 814.8 2181.2C814.8 2177.0 814.8 2172.2 816.2 2169.8C818.3 2169.4 819.0 2172.9 819.0 2176.4C819.7 2172.2 820.4 2169.4 822.2 2169.0C824.6 2170.1 823.9 2174.3 823.9 2177.7C825.2 2175.0 827.3 2173.6 830.1 2175.0C830.1 2181.2 828.0 2188.2 826.6 2192.4Z" fill="#F7CDB6"/><path d="M784.9 2202.8C790.5 2205.6 797.4 2207.7 801.6 2207.4C807.2 2203.5 811.3 2197.9 814.4 2191.2L826.6 2192.4C825.2 2203.5 821.1 2217.4 812.7 2224.4C807.2 2229.2 798.8 2230.6 790.5 2229.2L787.0 2217.4Z" fill="#FCEE55"/><path d="M739.0 2210.4L775.9 2203.5L784.9 2217.4L787.0 2245.2L786.3 2259.1L782.1 2274.7L748.7 2276.1L726.5 2276.8L723.0 2271.7L726.5 2259.1L734.8 2245.2L739.0 2224.4Z" fill="#FCEE55"/><path d="M729.9 2205.6L739.0 2210.4C740.4 2224.4 734.8 2245.2 726.5 2259.1C723.7 2264.7 722.3 2270.3 723.7 2276.5L717.4 2275.1C718.8 2259.1 725.1 2245.2 727.8 2231.3C729.2 2220.2 729.9 2211.8 729.9 2205.6Z" fill="#EE8433"/><path d="M729.2 2206.3C720.9 2214.6 709.8 2228.5 704.2 2242.4C700.0 2253.6 698.6 2266.1 699.3 2277.2L714.6 2280.0C716.7 2273.1 719.5 2264.7 723.7 2256.4C727.8 2245.2 730.6 2231.3 734.8 2217.4Z" fill="#FCEE55"/><path d="M743.8 2198.6L745.9 2189.6L771.0 2195.1L768.2 2198.6C765.4 2204.9 752.9 2206.3 743.8 2198.6Z" fill="#F7CDB6"/><path d="M743.8 2198.6C737.6 2200.7 733.4 2204.9 734.1 2209.1C736.2 2216.0 743.2 2219.5 750.1 2219.1C755.0 2217.4 757.8 2213.9 759.2 2210.4C761.9 2214.6 765.4 2216.7 769.6 2216.3C773.8 2214.6 776.5 2209.1 775.9 2200.0L768.2 2198.6C765.4 2204.9 752.9 2206.3 743.8 2198.6Z" fill="#FFFFFF"/><path d="M768.9 2227.8L779.6 2226.4L780.0 2230.6L769.3 2232.0Z" fill="#FFFFFF"/><path d="M741.1 2168.0C740.4 2175.7 742.5 2184.0 747.3 2191.0C752.9 2196.5 759.9 2199.0 768.2 2198.2C776.5 2195.8 783.5 2188.2 786.0 2178.4C787.0 2168.7 786.3 2160.4 782.8 2151.3L757.1 2156.2Z" fill="#F7CDB6"/><path d="M740.4 2167.3C751.5 2161.7 769.6 2154.8 783.5 2149.9L786.3 2156.2C776.5 2157.6 757.1 2164.5 741.8 2175.0Z" fill="#5C3A1A"/><ellipse cx="759.6" cy="2169.8" rx="3.5" ry="4.5" fill="#FFFFFF"/><ellipse cx="759.6" cy="2169.8" rx="2.5" ry="3.5" fill="#2A2320"/><ellipse cx="777.0" cy="2169.0" rx="3.5" ry="4.5" fill="#FFFFFF"/><ellipse cx="777.0" cy="2169.0" rx="2.5" ry="3.5" fill="#2A2320"/><path d="M773.8 2161.7C775.9 2160.1 778.2 2160.4 779.6 2162.0M768.9 2172.2C772.1 2172.9 772.1 2177.0 767.9 2177.3" fill="none" stroke="#2A2320" stroke-width="1.1" stroke-linecap="round" stroke-linejoin="round"/><ellipse cx="756.4" cy="2180.5" rx="7.0" ry="5.6" fill="#F2B8A6"/><ellipse cx="780.4" cy="2177.7" rx="4.5" ry="4.9" fill="#F2B8A6"/><path d="M760.1 2182.2L775.4 2181.2C775.2 2185.4 772.4 2190.3 768.2 2190.7C764.0 2190.3 761.0 2186.8 760.1 2182.2Z" fill="#FFFFFF" stroke="#2A2320" stroke-width="1.2" stroke-linecap="round" stroke-linejoin="round"/><path d="M748.7 2188.2C751.5 2193.7 758.5 2197.9 766.8 2198.6" fill="none" stroke="#2A2320" stroke-width="1.2" stroke-linecap="round" stroke-linejoin="round"/><path d="M728.1 2171.5C727.2 2165.9 728.5 2160.4 730.4 2156.9C734.8 2143.7 747.3 2131.8 761.2 2129.7C773.8 2129.5 782.1 2136.7 785.6 2143.7C789.1 2145.7 791.2 2147.8 792.1 2149.5C776.5 2152.7 748.7 2161.7 728.1 2171.5Z" fill="#FBEA53"/><path d="M730.4 2157.8C745.9 2149.2 765.4 2143.0 782.8 2141.6" fill="none" stroke="#2A2320" stroke-width="1.1" stroke-linecap="round" stroke-linejoin="round"/></g>
<g id="kid3"><path d="M881.8 2348.3L936.9 2346.7C940.2 2362.3 945.8 2395.7 952.4 2429.1C955.8 2445.8 956.9 2460.2 955.8 2469.7L939.6 2472.5C932.4 2460.2 924.6 2434.6 916.8 2397.3L909.0 2397.3C905.7 2406.8 901.2 2417.9 896.8 2426.8C887.9 2438.0 874.5 2450.2 862.3 2456.9L857.8 2456.9L847.3 2445.8C850.0 2439.1 857.8 2429.1 874.5 2412.4C874.5 2390.1 876.8 2367.8 881.8 2348.3Z" fill="#F5CF45"/><path d="M916.3 2397.3C922.4 2394.5 929.1 2390.1 932.6 2383.4" fill="none" stroke="#2A2320" stroke-width="1.1" stroke-linecap="round" stroke-linejoin="round"/><path d="M847.3 2445.8L844.7 2448.5L850.0 2460.4L857.8 2456.9Z" fill="#FFFFFF"/><path d="M939.6 2472.5L955.2 2469.7L956.3 2475.3L951.3 2481.6L941.3 2478.8Z" fill="#FFFFFF"/><path d="M844.5 2449.1C841.1 2451.3 837.2 2454.7 837.2 2456.9C842.2 2464.7 854.5 2476.9 862.8 2481.4C865.6 2480.8 866.2 2476.9 865.8 2473.0C863.4 2468.0 860.1 2463.6 857.3 2460.2L850.0 2460.4Z" fill="#8D5C96"/><path d="M851.7 2463.0L857.3 2460.8L862.3 2468.0L856.7 2469.7Z" fill="#FFFFFF"/><path d="M940.8 2478.6L942.4 2488.6C953.6 2488.1 969.1 2485.3 977.8 2481.9C978.1 2478.6 973.6 2475.3 968.0 2475.3C963.6 2475.8 960.2 2477.5 956.3 2479.1L951.3 2481.6Z" fill="#8D5C96"/><path d="M958.0 2480.3L962.5 2475.6L968.0 2475.6L963.0 2480.5Z" fill="#FFFFFF"/><path d="M882.3 2239.0C880.1 2244.6 880.6 2252.4 884.5 2256.8C887.9 2259.0 894.6 2259.0 900.1 2258.5L901.2 2232.3Z" fill="#5C3A1A"/><path d="M939.6 2219.0C945.8 2226.8 950.2 2235.7 949.1 2243.5C948.0 2249.0 943.5 2252.9 939.6 2254.0L936.9 2224.5Z" fill="#5C3A1A"/><path d="M899.6 2259.6C889.0 2260.1 879.0 2262.9 875.1 2267.9L866.7 2285.8L862.3 2326.9C862.8 2338.1 864.5 2344.8 865.6 2347.0L881.2 2348.6L877.9 2341.4L885.7 2324.7L883.4 2274.6Z" fill="#EE8433"/><path d="M938.5 2259.9C946.9 2251.2 963.6 2232.3 979.7 2216.2L989.2 2224.5C980.3 2240.1 963.6 2263.5 945.8 2286.9L939.6 2260.7Z" fill="#FCEE55"/><path d="M885.7 2274.6L933.5 2267.9L940.2 2291.3L943.5 2319.1L942.4 2338.1L936.9 2346.9L907.9 2348.5L881.2 2349.1L877.3 2342.5L879.0 2335.8L887.9 2324.7L883.4 2302.4Z" fill="#FCEE55"/><path d="M934.1 2264.6L939.6 2260.7C942.4 2269.1 945.8 2285.8 946.9 2302.4L946.3 2311.4L943.0 2314.7C942.4 2296.9 939.6 2280.2 934.1 2269.1Z" fill="#EE8433"/><path d="M884.0 2274.6L892.3 2280.2C894.6 2291.3 894.0 2302.4 892.3 2306.9L883.4 2306.9C884.5 2296.9 884.5 2285.8 884.0 2274.6Z" fill="#EE8433"/><path d="M884.0 2274.1C874.5 2282.4 857.8 2294.7 851.2 2301.3C846.7 2306.9 846.1 2315.8 848.9 2321.4C852.3 2325.8 858.9 2326.9 865.6 2325.3C872.3 2323.6 877.9 2321.9 881.2 2320.8L880.1 2308.0L874.5 2306.7L879.0 2303.8L883.7 2302.4Z" fill="#FCEE55"/><path d="M855.0 2305.5C862.3 2305.6 869.0 2306.0 874.0 2306.6" fill="none" stroke="#2A2320" stroke-width="1.1" stroke-linecap="round" stroke-linejoin="round"/><path d="M880.1 2308.0C883.4 2306.9 890.1 2306.9 893.5 2308.0C895.1 2311.4 894.6 2316.9 893.5 2320.3C892.3 2323.0 890.1 2323.6 887.9 2322.5C885.1 2321.9 882.3 2321.4 880.6 2320.5Z" fill="#F7CDB6"/><path d="M895.7 2236.2C895.1 2242.3 896.8 2249.0 900.1 2253.5L899.0 2269.1C905.7 2278.0 916.8 2278.0 923.5 2269.1L924.6 2265.9C930.2 2264.6 935.8 2260.1 939.6 2254.0C941.9 2246.8 941.9 2233.4 939.6 2219.0L919.1 2224.5Z" fill="#F7CDB6"/><path d="M895.7 2235.7C907.9 2229.0 924.6 2223.4 939.1 2218.4L940.4 2222.9C928.0 2224.5 910.1 2230.1 897.9 2237.9Z" fill="#5C3A1A"/><ellipse cx="921.8" cy="2237.0" rx="3.3" ry="4.5" fill="#FFFFFF"/><ellipse cx="921.8" cy="2237.0" rx="2.3" ry="3.3" fill="#2A2320"/><ellipse cx="936.9" cy="2235.3" rx="3.3" ry="4.5" fill="#FFFFFF"/><ellipse cx="936.9" cy="2235.3" rx="2.3" ry="3.3" fill="#2A2320"/><path d="M918.5 2230.6C920.2 2229.0 922.4 2229.0 924.1 2230.6M933.5 2229.0C935.2 2226.8 936.9 2226.8 938.2 2228.4M931.9 2240.1C935.2 2241.2 935.2 2245.1 930.7 2245.5" fill="none" stroke="#2A2320" stroke-width="1.1" stroke-linecap="round" stroke-linejoin="round"/><ellipse cx="913.5" cy="2246.6" rx="7.2" ry="6.1" fill="#F2B8A6"/><path d="M920.4 2250.4L937.1 2249.6C936.6 2254.6 933.5 2259.6 928.5 2259.9C923.5 2259.3 920.7 2255.1 920.4 2250.4Z" fill="#FFFFFF" stroke="#2A2320" stroke-width="1.2" stroke-linecap="round" stroke-linejoin="round"/><path d="M899.0 2267.9C893.5 2269.1 888.4 2272.4 889.0 2276.8C890.7 2283.5 896.8 2289.1 904.6 2289.6C909.6 2288.5 912.9 2284.6 914.6 2280.7C916.8 2284.6 920.7 2286.9 924.6 2286.3C929.6 2284.1 933.5 2278.0 933.0 2264.6L924.6 2266.3L923.5 2269.1C916.8 2278.0 905.7 2278.0 899.0 2267.9Z" fill="#FFFFFF"/><path d="M924.6 2298.9L936.0 2296.9L936.6 2301.1L925.3 2303.0Z" fill="#FFFFFF"/><path d="M881.2 2240.1C880.1 2233.4 881.8 2227.9 883.4 2225.6C885.7 2214.5 896.8 2201.2 912.4 2197.8C924.6 2196.1 933.5 2202.3 937.4 2209.5C942.4 2211.7 946.3 2214.5 947.8 2217.3C930.2 2221.2 902.4 2230.1 881.2 2240.1Z" fill="#FBEA53"/><path d="M883.2 2226.5C899.0 2217.8 919.1 2211.2 936.9 2209.5" fill="none" stroke="#2A2320" stroke-width="1.1" stroke-linecap="round" stroke-linejoin="round"/></g>
<g id="teacher2"><path d="M1034.2 2259.5L1027.9 2288.7L1025.2 2308.4L965.9 2431.1L994.3 2442.3L1070.3 2321.7L1084.5 2280.0L1088.5 2267.2Z" fill="#4C78D0"/><path d="M1125.3 2269.5L1127.9 2280.0L1138.7 2313.4L1176.3 2468.7L1206.4 2464.5L1187.2 2330.1L1179.6 2280.0L1174.7 2265.1Z" fill="#4C78D0"/><path d="M965.9 2431.1L994.3 2442.3L990.1 2448.6C998.5 2455.3 1008.5 2459.5 1013.5 2462.8C1016.0 2465.3 1016.0 2467.8 1014.3 2470.4C1011.8 2473.7 1006.8 2474.5 1001.8 2472.9L955.9 2447.8C957.6 2442.8 960.9 2436.1 965.9 2431.1Z" fill="#FFFFFF"/><path d="M957.1 2444.5L1002.7 2469.5C1008.5 2471.2 1013.5 2469.5 1015.5 2467.0M963.7 2433.6C968.4 2438.6 969.3 2444.5 968.1 2449.5M1003.2 2467.0C1003.5 2463.7 1006.0 2461.7 1009.3 2461.2M987.6 2443.6L993.5 2444.5M986.8 2448.6L992.6 2447.8M989.3 2452.8L994.8 2451.1M991.8 2456.2L997.1 2453.7M995.1 2459.0L999.8 2456.2M998.5 2461.7L1002.7 2458.3" fill="none" stroke="#2A2320" stroke-width="1.1" stroke-linecap="round" stroke-linejoin="round"/><path d="M1176.3 2468.7L1206.4 2464.5L1209.7 2468.7C1220.6 2469.5 1230.6 2470.4 1235.6 2472.0C1239.8 2474.5 1241.9 2477.9 1241.4 2482.9L1179.6 2492.1C1178.0 2484.5 1176.8 2477.0 1176.3 2468.7Z" fill="#FFFFFF"/><path d="M1178.8 2488.7L1241.4 2479.5M1176.8 2475.7C1183.8 2476.2 1188.0 2481.2 1190.5 2487.0M1232.2 2470.9C1230.6 2474.5 1230.2 2477.9 1230.9 2481.2M1201.4 2466.7L1207.2 2468.7M1203.9 2472.0L1208.0 2469.0M1209.7 2473.7L1213.0 2470.0M1214.7 2474.5L1217.6 2470.7M1219.7 2475.0L1222.2 2471.4M1224.7 2475.4L1226.9 2472.0" fill="none" stroke="#2A2320" stroke-width="1.1" stroke-linecap="round" stroke-linejoin="round"/><path d="M1030.0 2186.9C1025.1 2194.1 1018.2 2205.2 1017.2 2215.0C1017.5 2219.1 1021.0 2221.2 1025.1 2221.7L1027.6 2223.3L1033.5 2188.5Z" fill="#5C3A1A"/><path d="M1087.1 1958.5L1072.2 1961.3L1050.2 1969.0L1052.3 2030.9L1162.9 2030.9L1155.2 1966.6L1134.8 1961.3L1122.5 1959.9C1117.0 1968.3 1097.5 1968.3 1087.1 1958.5Z" fill="#86766B"/><path d="M1050.2 1969.0L1041.8 1973.1L1036.3 1978.7L1032.1 1984.3L1016.8 2017.0L1002.9 2058.7L994.5 2080.0L989.0 2107.8L984.1 2142.6L981.3 2172.9L1005.7 2174.6L1011.2 2142.6L1022.4 2107.8L1032.1 2080.0L1039.1 2072.6L1050.2 2047.6L1052.3 2030.9L1051.6 2003.1Z" fill="#86766B"/><path d="M1155.2 1966.6L1162.9 1969.7L1166.4 1973.1L1168.5 1978.0L1179.6 2003.1L1193.5 2044.8L1201.9 2072.6L1206.0 2080.0L1211.6 2121.7L1217.2 2153.7L1195.2 2155.1L1186.5 2121.7L1175.4 2080.0L1172.6 2072.6L1162.9 2044.8L1160.1 2010.0L1157.3 1982.2Z" fill="#86766B"/><path d="M981.3 2172.9L1005.7 2174.6L1014.7 2194.1C1012.6 2199.7 1009.8 2203.1 1007.0 2204.5L1006.4 2210.1L989.0 2224.7L979.9 2215.7L980.6 2211.5C977.1 2206.6 975.7 2201.1 976.2 2194.1C976.4 2185.8 979.2 2178.8 981.3 2172.9Z" fill="#F7CDB6"/><path d="M1005.4 2192.7L1006.4 2193.0L1007.2 2204.3L1006.4 2204.5Z" fill="#A8CB5F"/><path d="M1195.2 2155.1L1217.2 2153.7C1221.3 2160.7 1224.8 2169.1 1224.4 2176.0C1224.1 2183.0 1221.3 2187.1 1217.2 2188.5C1211.6 2190.6 1204.6 2191.3 1200.5 2189.9C1197.7 2187.1 1195.6 2180.2 1195.2 2176.0Z" fill="#F7CDB6"/><path d="M1206.0 2161.8C1208.1 2166.3 1210.9 2170.4 1213.0 2172.9M1195.6 2176.3C1199.1 2174.6 1200.5 2176.0 1201.9 2183.7M1200.5 2176.0C1203.2 2173.9 1205.3 2176.0 1208.1 2186.4M1205.3 2176.0C1208.8 2173.2 1211.6 2176.0 1214.4 2183.7C1218.6 2183.0 1220.6 2177.4 1221.1 2170.4" fill="none" stroke="#2A2320" stroke-width="1.1" stroke-linecap="round" stroke-linejoin="round"/><path d="M1050.2 1969.0L1072.2 1961.3L1077.7 2013.5L1135.1 2012.5L1134.8 1961.3L1155.2 1966.6L1157.3 1982.2L1160.1 2010.0L1162.9 2044.8L1167.1 2090.0L1167.1 2080.0L1171.2 2121.8L1175.4 2177.4L1179.6 2219.2L1183.1 2261.6C1158.7 2268.1 1130.9 2269.5 1089.1 2267.2C1068.3 2265.4 1047.4 2261.9 1024.9 2255.6L1027.9 2219.2L1033.5 2177.4L1039.1 2121.8L1043.2 2080.0L1047.4 2058.7L1052.3 2030.9L1051.6 2003.1Z" fill="#F4C265"/><path d="M1049.1 2144.4L1092.6 2142.9C1094.7 2152.4 1095.8 2157.9 1095.4 2163.5C1095.4 2170.4 1094.7 2176.0 1093.3 2181.6C1091.2 2188.5 1087.8 2192.7 1083.6 2195.5C1079.4 2198.3 1074.5 2199.9 1069.7 2199.9C1065.5 2199.7 1062.0 2198.3 1058.5 2195.5C1055.1 2191.3 1052.3 2185.8 1050.9 2180.2C1049.1 2174.6 1048.1 2169.1 1048.1 2163.5C1048.1 2156.5 1048.5 2149.6 1049.1 2144.4Z" fill="#F9E095"/><path d="M1128.1 2144.3L1171.2 2142.9C1173.3 2152.4 1174.7 2157.9 1174.3 2163.5C1174.0 2170.4 1172.9 2177.4 1171.2 2183.0C1169.2 2188.5 1165.7 2192.7 1161.5 2195.5C1157.3 2198.3 1153.2 2199.9 1149.0 2199.9C1144.8 2199.7 1141.3 2198.3 1137.8 2195.5C1134.4 2191.3 1131.6 2187.1 1130.2 2181.6C1128.4 2176.0 1127.4 2169.1 1127.4 2163.5C1127.4 2156.5 1127.7 2149.6 1128.1 2144.3Z" fill="#F9E095"/><path d="M1069.0 2162.1C1064.1 2157.9 1054.4 2158.6 1053.0 2167.7C1052.3 2177.4 1058.5 2185.8 1064.1 2185.8C1066.9 2186.0 1068.3 2185.1 1069.4 2185.1C1071.1 2185.8 1073.8 2186.0 1075.9 2185.1C1082.2 2180.2 1085.7 2173.2 1085.0 2167.0C1083.6 2160.0 1075.2 2158.6 1069.0 2162.1Z" fill="#E46F55"/><path d="M1068.3 2162.4C1071.1 2156.5 1075.2 2152.4 1081.1 2151.2C1080.8 2155.8 1078.7 2159.3 1075.2 2160.7C1072.4 2162.1 1069.7 2162.4 1068.3 2162.4Z" fill="#6FAE3C"/><ellipse cx="1128.1" cy="2033.7" rx="6.3" ry="6.3" fill="#875843"/><ellipse cx="1152.5" cy="2030.9" rx="5.8" ry="5.8" fill="#875843"/><ellipse cx="1142.4" cy="2046.2" rx="16.4" ry="16.1" fill="#875843"/><ellipse cx="1137.4" cy="2043.7" rx="1.9" ry="1.9" fill="#2A2320"/><ellipse cx="1148.0" cy="2042.7" rx="1.9" ry="1.9" fill="#2A2320"/><ellipse cx="1143.4" cy="2047.3" rx="1.4" ry="1.0" fill="#2A2320"/><path d="M1143.4 2047.3L1143.4 2052.5M1137.2 2051.1C1139.9 2054.5 1146.9 2053.8 1150.0 2049.7" fill="none" stroke="#2A2320" stroke-width="1.1" stroke-linecap="round" stroke-linejoin="round"/><path d="M1091.9 1927.9L1089.8 1947.4L1087.1 1958.5C1097.5 1968.3 1117.0 1968.3 1122.5 1959.9L1121.4 1949.5C1128.1 1948.1 1136.5 1943.2 1142.0 1933.5C1144.8 1922.4 1146.2 1905.7 1144.8 1891.7L1145.5 1883.4L1136.5 1873.7L1122.5 1875.0L1103.1 1895.9L1089.1 1908.4Z" fill="#F7CDB6"/><path d="M1103.1 1858.3C1110.0 1857.7 1114.2 1859.0 1117.0 1860.4C1121.1 1859.7 1125.3 1860.0 1128.1 1860.4C1135.1 1861.8 1139.9 1864.6 1142.0 1867.4C1144.8 1870.9 1146.2 1875.0 1147.6 1877.8C1149.3 1881.3 1150.4 1884.8 1150.0 1887.8C1149.5 1890.4 1148.7 1891.5 1147.6 1891.7C1146.5 1887.6 1144.8 1883.4 1142.0 1880.6C1139.2 1878.5 1136.5 1877.1 1133.7 1877.1C1132.3 1877.6 1130.9 1878.2 1129.5 1878.5C1127.4 1878.5 1125.0 1877.6 1122.5 1877.8C1120.0 1878.5 1118.4 1880.6 1117.0 1883.4C1114.9 1887.6 1113.5 1891.7 1111.4 1894.5C1107.2 1898.7 1101.7 1899.4 1097.5 1901.5C1095.4 1902.9 1095.0 1905.0 1094.7 1907.0C1094.0 1908.4 1091.9 1908.7 1090.5 1908.4L1087.8 1915.4C1089.1 1921.0 1090.8 1925.1 1091.9 1927.9L1091.9 1933.5C1087.8 1932.1 1084.3 1930.0 1082.2 1927.9C1080.1 1923.7 1079.4 1920.3 1078.0 1916.8C1074.5 1912.6 1072.4 1909.1 1072.4 1905.7C1071.3 1901.5 1071.3 1898.0 1071.8 1894.5C1072.4 1889.0 1073.6 1884.8 1075.2 1880.6C1078.7 1873.7 1082.2 1868.1 1086.4 1863.2C1090.5 1859.7 1097.5 1858.6 1103.1 1858.3Z" fill="#514845"/><ellipse cx="1083.6" cy="1906.4" rx="6.3" ry="8.6" fill="#F7CDB6"/><path d="M1078.7 1891.7C1082.2 1883.4 1094.7 1877.8 1097.5 1870.9C1099.6 1865.3 1105.8 1861.8 1112.8 1861.1M1088.5 1897.3C1091.9 1890.4 1103.1 1887.6 1108.6 1879.2C1111.4 1872.3 1118.4 1869.5 1125.6 1870.9" fill="none" stroke="#2A2326" stroke-width="1.1" stroke-linecap="round" stroke-linejoin="round"/><path d="M1111.4 1895.9C1115.6 1893.8 1121.1 1894.2 1124.6 1896.6M1133.4 1895.9C1136.5 1894.2 1139.9 1894.2 1142.7 1895.9" fill="none" stroke="#2A2320" stroke-width="1.1" stroke-linecap="round" stroke-linejoin="round"/><ellipse cx="1121.4" cy="1905.2" rx="3.6" ry="5.0" fill="#FFFFFF"/><ellipse cx="1139.5" cy="1905.2" rx="3.5" ry="5.0" fill="#FFFFFF"/><ellipse cx="1121.4" cy="1905.2" rx="2.5" ry="3.8" fill="#2A2320"/><ellipse cx="1139.5" cy="1905.2" rx="2.4" ry="3.8" fill="#2A2320"/><path d="M1133.0 1901.5L1137.8 1918.2L1130.5 1919.2" fill="none" stroke="#2A2320" stroke-width="1.1" stroke-linecap="round" stroke-linejoin="round"/><ellipse cx="1114.2" cy="1916.4" rx="9.0" ry="4.5" fill="#F2B8A6"/><path d="M1118.4 1925.1C1125.3 1927.9 1133.7 1927.6 1140.9 1925.4" fill="none" stroke="#2A2320" stroke-width="1.2" stroke-linecap="round" stroke-linejoin="round"/><path d="M1095.4 1932.1C1098.9 1939.1 1107.2 1946.0 1120.5 1949.1" fill="none" stroke="#2A2320" stroke-width="1.3" stroke-linecap="round" stroke-linejoin="round"/></g>
<g id="kid4"><path d="M1238.0 2257.7L1293.0 2255.6L1300.2 2302.9L1232.2 2302.9Z" fill="#F5CF45"/><path d="M1231.7 2300.0L1231.0 2318.1C1222.0 2326.4 1213.7 2333.4 1208.1 2343.1L1205.3 2348.7L1217.8 2361.2C1226.2 2357.0 1240.1 2344.5 1251.2 2333.4C1256.8 2322.3 1261.0 2311.1 1265.1 2303.5L1272.1 2303.5C1274.2 2323.7 1281.8 2355.7 1294.4 2375.8L1309.7 2373.1C1311.1 2355.7 1305.5 2325.0 1299.9 2300.0Z" fill="#F5CF45"/><path d="M1271.4 2303.3C1277.7 2300.1 1284.6 2295.9 1287.1 2290.4" fill="none" stroke="#2A2320" stroke-width="1.1" stroke-linecap="round" stroke-linejoin="round"/><path d="M1205.3 2348.7L1202.2 2352.9L1208.1 2364.3L1217.8 2361.2Z" fill="#FFFFFF"/><path d="M1294.4 2375.8L1309.7 2373.1L1310.4 2378.6L1304.1 2384.7L1295.8 2382.4Z" fill="#FFFFFF"/><path d="M1201.8 2353.6C1199.0 2355.7 1195.6 2358.4 1195.6 2361.2C1201.1 2369.6 1213.7 2380.7 1220.6 2384.2C1223.1 2383.5 1224.1 2379.3 1223.4 2375.8C1221.3 2371.0 1217.8 2366.8 1215.0 2364.0L1208.1 2364.3Z" fill="#3E8DD9"/><path d="M1210.2 2366.8L1215.7 2364.7L1219.9 2370.3L1214.4 2372.1Z" fill="#FFFFFF"/><path d="M1295.1 2382.1L1296.9 2391.8C1308.3 2391.1 1323.6 2388.4 1331.0 2384.9C1331.2 2381.4 1326.4 2377.9 1321.5 2378.2C1316.6 2378.6 1313.1 2380.7 1309.0 2382.1L1304.1 2384.7Z" fill="#3E8DD9"/><path d="M1311.8 2383.2L1315.9 2379.0L1320.8 2379.0L1315.9 2383.5Z" fill="#FFFFFF"/><path d="M1308.0 2253.5C1315.2 2255.6 1326.4 2257.7 1334.7 2256.7" fill="none" stroke="#2A2320" stroke-width="1.0" stroke-linecap="round" stroke-linejoin="round"/><path d="M1255.4 2171.4C1244.3 2172.1 1233.1 2175.6 1229.7 2181.8L1221.3 2208.3L1231.7 2236.1L1229.0 2256.3L1238.0 2257.0L1251.2 2187.4Z" fill="#EE8433"/><path d="M1249.8 2191.6L1286.7 2184.6L1295.8 2198.5L1297.8 2226.4L1297.1 2240.3L1293.0 2255.9L1259.6 2257.3L1238.0 2257.9L1234.5 2251.4L1238.0 2237.5L1245.7 2223.6L1249.8 2205.5Z" fill="#FCEE55"/><path d="M1287.4 2180.4L1293.7 2181.1C1297.8 2191.6 1301.3 2212.4 1302.0 2227.1L1298.5 2231.9C1297.8 2212.4 1295.1 2195.8 1289.5 2186.0Z" fill="#EE8433"/><path d="M1240.8 2186.0L1249.8 2191.6C1251.2 2205.5 1245.7 2223.6 1238.0 2236.1C1235.2 2241.7 1233.8 2250.0 1234.8 2256.3L1229.0 2255.6C1229.7 2240.3 1235.9 2226.4 1239.0 2212.4C1240.4 2201.3 1240.8 2193.0 1240.8 2186.0Z" fill="#EE8433"/><path d="M1240.1 2186.0C1231.7 2194.4 1220.6 2208.3 1215.0 2222.2C1210.9 2233.3 1209.5 2245.8 1210.2 2257.7L1225.5 2260.5C1226.9 2252.8 1230.4 2243.1 1234.5 2234.7C1238.7 2223.6 1241.5 2211.1 1245.7 2197.1Z" fill="#FCEE55"/><path d="M1210.2 2257.7C1207.4 2261.1 1206.7 2266.7 1208.1 2270.2C1210.9 2272.3 1217.8 2273.7 1222.7 2273.0C1224.1 2270.2 1224.8 2268.1 1226.9 2266.0C1226.5 2263.2 1225.9 2261.8 1225.5 2260.5Z" fill="#F7CDB6"/><path d="M1222.7 2265.0L1223.4 2268.4" fill="none" stroke="#2A2320" stroke-width="1.0" stroke-linecap="round" stroke-linejoin="round"/><path d="M1297.8 2187.4C1301.3 2187.4 1304.1 2191.6 1306.9 2195.8C1315.2 2208.3 1325.0 2220.8 1333.3 2231.2L1328.5 2241.7C1319.4 2237.5 1309.7 2233.3 1301.3 2229.1L1297.8 2215.2Z" fill="#FCEE55"/><path d="M1333.3 2230.8L1328.5 2241.7C1330.5 2244.5 1334.7 2247.9 1338.9 2250.0C1343.1 2252.1 1347.2 2251.4 1350.7 2250.7C1352.1 2247.9 1352.8 2245.8 1354.6 2244.2C1354.2 2241.0 1351.4 2238.9 1347.9 2238.2C1344.5 2236.8 1340.3 2236.1 1337.8 2235.4Z" fill="#F7CDB6"/><path d="M1333.3 2230.8L1328.5 2241.7C1329.8 2243.8 1332.6 2245.8 1335.4 2247.2C1334.7 2242.4 1335.4 2238.2 1337.8 2235.4Z" fill="#EDB9A0"/><path d="M1351.1 2243.1L1351.8 2246.5" fill="none" stroke="#2A2320" stroke-width="1.0" stroke-linecap="round" stroke-linejoin="round"/><path d="M1241.5 2145.4C1256.8 2138.0 1280.4 2134.5 1299.2 2134.2C1300.6 2138.7 1299.9 2144.3 1297.8 2148.4L1295.8 2167.9L1256.5 2165.8C1249.8 2163.7 1243.6 2158.2 1241.8 2151.2Z" fill="#5C3A1A"/><path d="M1251.9 2151.2C1251.2 2156.8 1254.0 2162.4 1256.5 2165.8L1255.4 2179.1C1262.4 2187.4 1273.5 2187.4 1279.1 2180.4C1287.4 2177.7 1293.0 2170.7 1295.1 2162.4C1297.1 2152.6 1296.4 2144.3 1294.4 2139.0C1280.4 2138.7 1265.1 2142.9 1255.4 2148.4Z" fill="#F7CDB6"/><path d="M1270.4 2150.9L1276.0 2152.9L1271.0 2155.4M1293.7 2148.2L1289.1 2150.1L1293.7 2152.3M1271.8 2143.6C1273.5 2141.5 1276.3 2141.5 1277.9 2143.6M1287.4 2141.8C1289.1 2139.8 1291.6 2139.8 1293.2 2141.5M1286.7 2153.3C1290.2 2154.0 1290.5 2157.9 1286.3 2158.2" fill="none" stroke="#2A2320" stroke-width="1.1" stroke-linecap="round" stroke-linejoin="round"/><ellipse cx="1268.6" cy="2158.9" rx="7.0" ry="5.8" fill="#F2B8A6"/><path d="M1277.7 2163.7L1291.3 2162.4C1290.9 2166.5 1288.1 2170.4 1283.9 2170.7C1280.4 2170.4 1278.1 2167.6 1277.7 2163.7Z" fill="#FFFFFF" stroke="#2A2320" stroke-width="1.1" stroke-linecap="round" stroke-linejoin="round"/><path d="M1260.0 2169.0C1262.4 2174.9 1269.3 2178.4 1277.4 2178.8" fill="none" stroke="#2A2320" stroke-width="1.2" stroke-linecap="round" stroke-linejoin="round"/><path d="M1255.4 2179.1C1249.1 2180.4 1245.0 2184.6 1245.4 2189.5C1247.0 2195.8 1254.0 2199.9 1260.3 2199.9C1265.1 2198.5 1268.2 2195.1 1270.0 2191.3C1272.1 2195.1 1275.6 2197.1 1279.7 2196.9C1283.9 2195.1 1287.4 2189.5 1286.3 2180.4L1279.1 2180.4C1273.5 2187.4 1262.4 2187.4 1255.4 2179.1Z" fill="#FFFFFF"/><path d="M1279.7 2209.0L1290.5 2207.3L1291.0 2211.3L1280.3 2213.0Z" fill="#FFFFFF"/><path d="M1238.0 2145.7C1237.3 2140.1 1239.4 2134.5 1241.8 2131.7C1245.7 2120.6 1256.8 2110.9 1270.7 2109.5C1283.2 2108.8 1292.3 2115.0 1296.4 2124.1C1300.6 2126.9 1303.4 2129.7 1304.4 2132.4C1287.4 2133.1 1259.6 2137.3 1238.0 2145.7Z" fill="#FBEA53"/><path d="M1241.8 2132.4C1256.8 2126.9 1277.7 2123.4 1295.3 2124.1" fill="none" stroke="#2A2320" stroke-width="1.1" stroke-linecap="round" stroke-linejoin="round"/></g>
<g id="kid5"><path d="M1366.0 2235.4L1420.3 2233.3L1423.8 2257.0L1428.2 2282.0L1432.8 2300.0L1435.6 2313.9L1438.0 2339.0L1437.7 2352.2L1421.7 2355.0L1414.0 2343.1L1409.2 2332.0L1405.7 2320.9L1402.9 2300.0L1400.1 2282.0L1392.5 2282.0L1384.1 2300.0L1377.8 2313.9L1368.1 2325.0L1351.4 2337.6L1343.1 2340.4L1331.2 2329.9L1334.0 2324.4L1337.5 2318.1L1347.2 2308.3L1355.6 2300.0L1359.1 2295.9L1359.1 2275.1L1361.1 2254.2Z" fill="#F5CF45"/><path d="M1399.8 2281.7C1407.1 2277.8 1413.3 2273.7 1415.4 2268.1" fill="none" stroke="#2A2320" stroke-width="1.1" stroke-linecap="round" stroke-linejoin="round"/><path d="M1331.2 2329.9L1328.9 2333.4L1335.4 2343.4L1343.1 2340.4Z" fill="#FFFFFF"/><path d="M1421.7 2355.0L1437.7 2352.2L1438.4 2357.0L1432.1 2363.2L1423.1 2360.8Z" fill="#FFFFFF"/><path d="M1329.1 2332.7C1326.4 2334.8 1323.6 2336.9 1323.6 2339.7C1329.1 2347.3 1341.7 2358.4 1348.6 2362.6C1351.1 2361.9 1352.1 2357.7 1351.4 2354.3C1349.3 2349.4 1345.8 2345.2 1342.4 2341.7L1335.4 2343.4Z" fill="#E84A2A"/><path d="M1337.5 2345.2L1342.8 2342.9L1347.2 2348.7L1341.9 2350.4Z" fill="#FFFFFF"/><path d="M1422.7 2360.1L1424.5 2369.6C1436.3 2368.9 1451.6 2365.4 1458.6 2361.9C1458.6 2358.4 1453.7 2355.7 1448.8 2356.1C1443.9 2356.8 1441.2 2358.4 1437.0 2360.1L1432.1 2363.2Z" fill="#E84A2A"/><path d="M1439.1 2361.2L1443.5 2357.0L1448.5 2357.0L1443.9 2361.5Z" fill="#FFFFFF"/><path d="M1391.8 2117.1C1401.5 2122.0 1415.4 2127.6 1426.5 2130.4C1426.5 2137.3 1425.2 2142.9 1428.6 2148.4C1430.7 2154.0 1426.5 2158.2 1430.0 2163.7C1433.5 2167.9 1434.9 2172.1 1434.2 2174.9C1429.3 2172.1 1425.2 2165.1 1421.0 2161.0L1404.3 2154.0L1406.4 2131.7Z" fill="#86603A"/><path d="M1367.4 2114.4C1364.6 2120.6 1363.9 2129.0 1364.6 2135.9C1361.1 2141.5 1357.0 2145.7 1357.7 2151.2C1359.1 2155.4 1361.8 2156.8 1360.5 2162.4C1359.1 2166.5 1359.8 2167.9 1360.5 2169.3C1365.3 2165.1 1369.5 2162.4 1373.7 2159.6L1370.9 2145.7L1370.2 2124.8Z" fill="#86603A"/><path d="M1360.5 2158.2L1350.0 2181.8L1357.0 2215.2L1356.3 2234.0L1366.0 2234.7L1376.5 2167.9L1370.9 2162.4Z" fill="#EE8433"/><path d="M1377.2 2170.7L1414.3 2163.7L1423.8 2179.1L1425.9 2208.3L1425.2 2220.8L1420.3 2233.6L1384.8 2235.0L1366.0 2235.7L1361.8 2229.1L1365.3 2215.2L1373.7 2201.3L1377.2 2184.6Z" fill="#FCEE55"/><path d="M1414.7 2158.9L1421.7 2162.4C1425.9 2173.5 1428.6 2190.2 1429.3 2204.1L1426.3 2209.9C1425.2 2193.0 1422.4 2176.3 1416.8 2166.5Z" fill="#EE8433"/><path d="M1367.4 2165.8L1377.2 2170.7C1378.5 2184.6 1373.7 2201.3 1366.0 2213.8C1363.2 2219.4 1361.8 2227.8 1362.5 2234.7L1356.3 2234.0C1357.0 2219.4 1363.2 2205.5 1366.0 2193.0C1367.4 2181.8 1367.8 2173.5 1367.4 2165.8Z" fill="#EE8433"/><path d="M1366.7 2163.7C1357.0 2173.5 1345.8 2190.2 1341.0 2205.5C1338.2 2215.2 1337.5 2226.4 1338.2 2236.1L1352.1 2238.6C1353.5 2231.9 1356.3 2223.6 1360.5 2215.2C1364.6 2204.1 1368.1 2190.2 1372.3 2176.3Z" fill="#FCEE55"/><path d="M1425.2 2167.9C1429.3 2169.3 1433.5 2174.9 1437.7 2180.4C1444.6 2190.2 1453.0 2199.9 1460.6 2208.3L1456.5 2218.7C1447.4 2214.5 1437.7 2210.4 1429.3 2206.2L1425.9 2194.4Z" fill="#FCEE55"/><path d="M1460.6 2208.3L1456.5 2218.7C1458.6 2221.5 1461.3 2223.6 1462.7 2224.3L1467.6 2209.7Z" fill="#F7CDB6"/><path d="M1370.9 2114.4C1369.5 2124.8 1369.5 2135.9 1372.3 2145.7C1375.1 2152.6 1380.6 2156.8 1383.4 2158.2L1383.4 2159.6L1406.4 2158.9L1405.0 2154.0C1407.1 2148.4 1407.1 2138.7 1405.0 2131.7C1401.5 2124.8 1395.9 2119.2 1391.8 2117.1Z" fill="#F7CDB6"/><path d="M1383.1 2156.8L1406.8 2155.4L1407.1 2158.9C1401.5 2165.1 1390.4 2165.1 1383.1 2158.5Z" fill="#F7CDB6"/><ellipse cx="1375.1" cy="2131.0" rx="3.3" ry="4.5" fill="#FFFFFF"/><ellipse cx="1375.1" cy="2131.0" rx="2.4" ry="3.5" fill="#2A2320"/><ellipse cx="1389.7" cy="2131.5" rx="3.3" ry="4.5" fill="#FFFFFF"/><ellipse cx="1389.7" cy="2131.5" rx="2.4" ry="3.5" fill="#2A2320"/><path d="M1370.9 2123.4C1372.6 2121.7 1375.1 2121.7 1376.5 2123.4M1387.6 2124.1C1389.3 2122.0 1392.0 2122.0 1393.8 2123.7M1380.6 2133.1C1377.2 2134.2 1377.2 2138.7 1381.7 2139.0" fill="none" stroke="#2A2320" stroke-width="1.1" stroke-linecap="round" stroke-linejoin="round"/><ellipse cx="1397.3" cy="2138.7" rx="6.3" ry="5.8" fill="#F2B8A6"/><path d="M1378.1 2145.0C1382.7 2147.3 1387.6 2146.4 1390.6 2143.2" fill="none" stroke="#2A2320" stroke-width="1.2" stroke-linecap="round" stroke-linejoin="round"/><path d="M1383.4 2157.9C1390.4 2159.6 1400.1 2157.5 1404.3 2153.3" fill="none" stroke="#2A2320" stroke-width="1.2" stroke-linecap="round" stroke-linejoin="round"/><path d="M1383.4 2158.2C1377.8 2159.6 1373.4 2163.1 1374.0 2167.9C1375.8 2174.2 1382.0 2177.9 1388.3 2177.7C1393.2 2176.5 1396.6 2172.8 1398.0 2169.3C1400.1 2172.8 1403.6 2175.2 1407.8 2174.9C1411.9 2173.5 1415.4 2167.2 1414.3 2158.5L1406.4 2158.2C1401.5 2163.7 1390.4 2164.4 1383.4 2158.2Z" fill="#FFFFFF"/><path d="M1407.8 2187.0L1418.5 2185.3L1419.0 2189.2L1408.3 2190.9Z" fill="#FFFFFF"/><path d="M1362.3 2112.3C1363.9 2108.1 1368.1 2105.3 1371.6 2103.9C1375.1 2097.0 1384.8 2091.4 1395.9 2091.1C1409.9 2092.1 1421.0 2102.5 1425.2 2115.0C1427.2 2120.6 1428.2 2126.2 1427.2 2130.4C1412.6 2122.0 1384.8 2110.9 1362.3 2112.3Z" fill="#FBEA53"/><path d="M1371.6 2104.2C1390.4 2105.3 1409.9 2110.9 1424.2 2116.4" fill="none" stroke="#2A2320" stroke-width="1.1" stroke-linecap="round" stroke-linejoin="round"/></g>
<g id="kid6"><path d="M1477.6 2286.4L1534.6 2283.9L1537.4 2304.8L1540.3 2320.0L1548.6 2358.4L1552.8 2390.1L1552.8 2406.0L1536.1 2409.3L1526.9 2391.8L1521.1 2376.8L1516.9 2361.7L1512.7 2334.2L1507.7 2334.2L1500.2 2345.0L1490.2 2366.8L1478.5 2378.4L1466.8 2388.5L1457.6 2393.5L1442.6 2384.3L1444.3 2378.4L1453.5 2366.8L1471.0 2350.1L1471.8 2320.0L1473.4 2304.8Z" fill="#F5CF45"/><path d="M1513.1 2333.7C1520.0 2329.9 1527.0 2325.7 1529.3 2320.1" fill="none" stroke="#2A2320" stroke-width="1.1" stroke-linecap="round" stroke-linejoin="round"/><path d="M1442.6 2384.3L1439.8 2388.5L1446.8 2398.8L1457.6 2393.5Z" fill="#FFFFFF"/><path d="M1536.1 2409.3L1552.8 2406.0L1553.7 2411.8L1547.0 2418.8L1537.8 2416.3Z" fill="#FFFFFF"/><path d="M1438.4 2387.6C1435.9 2389.3 1433.4 2391.8 1433.8 2394.3C1440.1 2403.5 1451.8 2414.3 1460.1 2418.2C1462.7 2416.8 1463.2 2413.5 1462.7 2409.3C1460.1 2404.3 1456.8 2400.1 1453.5 2397.1L1446.8 2398.8Z" fill="#EE7A33"/><path d="M1448.8 2401.8L1454.3 2399.3L1458.8 2404.8L1453.1 2406.8Z" fill="#FFFFFF"/><path d="M1537.3 2415.5L1539.0 2425.5C1552.0 2424.9 1567.0 2421.9 1575.0 2418.5C1574.5 2414.8 1569.5 2411.5 1563.7 2411.8C1558.7 2412.7 1555.3 2414.3 1552.0 2416.0L1547.0 2418.8Z" fill="#EE7A33"/><path d="M1554.5 2417.2L1559.0 2412.7L1563.7 2412.7L1559.5 2417.7Z" fill="#FFFFFF"/><path d="M1496.4 2196.3C1485.9 2197.0 1474.8 2199.7 1471.3 2206.0L1460.9 2233.8L1472.0 2261.7L1467.8 2284.6L1477.6 2285.6L1488.7 2214.4Z" fill="#EE8433"/><path d="M1490.8 2217.1L1528.4 2210.2L1537.4 2224.1L1540.2 2253.3L1539.5 2268.6L1534.6 2284.2L1501.2 2285.9L1477.6 2286.7L1474.1 2279.8L1477.6 2264.5L1486.6 2250.5L1490.8 2231.1Z" fill="#FCEE55"/><path d="M1529.1 2206.0L1536.0 2205.3C1539.5 2215.8 1543.7 2238.0 1544.1 2254.7L1540.2 2259.6C1539.5 2239.4 1537.4 2221.3 1531.8 2211.6Z" fill="#EE8433"/><path d="M1481.0 2210.9L1490.8 2217.1C1492.2 2231.1 1486.6 2250.5 1479.0 2263.1C1476.2 2268.6 1474.8 2278.4 1475.9 2285.0L1467.8 2283.9C1469.2 2267.2 1476.2 2253.3 1479.2 2239.4C1480.6 2228.3 1481.0 2219.9 1481.0 2210.9Z" fill="#EE8433"/><path d="M1480.4 2210.2C1472.0 2218.5 1459.5 2235.2 1453.9 2250.5C1450.4 2261.7 1449.0 2274.2 1449.0 2286.7L1464.4 2289.5C1465.7 2281.1 1468.5 2271.4 1472.7 2263.1C1477.6 2251.9 1481.0 2238.0 1485.9 2222.7Z" fill="#FCEE55"/><path d="M1449.0 2286.4C1446.3 2290.2 1445.6 2295.8 1447.0 2299.5C1449.7 2301.7 1456.7 2303.1 1461.6 2302.3C1463.0 2299.5 1463.9 2297.2 1466.0 2295.1C1465.6 2292.3 1465.0 2290.9 1464.4 2289.5Z" fill="#F7CDB6"/><path d="M1462.0 2294.0L1462.8 2297.6" fill="none" stroke="#2A2320" stroke-width="1.0" stroke-linecap="round" stroke-linejoin="round"/><path d="M1539.5 2219.9C1543.0 2219.9 1546.4 2225.5 1549.9 2230.4C1558.3 2242.2 1566.6 2251.9 1575.7 2261.0L1571.5 2270.0C1562.4 2266.5 1552.7 2262.4 1543.7 2257.5L1540.2 2242.2Z" fill="#FCEE55"/><path d="M1575.7 2260.6L1571.5 2270.0C1573.6 2272.8 1577.8 2276.3 1581.9 2278.4C1586.1 2280.0 1591.0 2280.0 1594.7 2279.1C1595.8 2276.3 1597.0 2274.2 1599.3 2272.1C1598.6 2268.6 1595.8 2266.5 1592.4 2265.8C1588.9 2264.7 1584.7 2264.2 1581.2 2263.1Z" fill="#F7CDB6"/><path d="M1575.7 2260.6L1571.5 2270.0C1572.9 2272.1 1575.7 2274.2 1579.1 2275.6C1578.5 2270.7 1579.1 2266.5 1581.2 2263.1Z" fill="#EDB9A0"/><path d="M1595.1 2271.1L1596.5 2274.9" fill="none" stroke="#2A2320" stroke-width="1.0" stroke-linecap="round" stroke-linejoin="round"/><path d="M1483.8 2171.2L1499.8 2165.0L1497.7 2187.9C1490.8 2184.4 1485.2 2178.2 1483.8 2171.2Z" fill="#5C3A1A"/><path d="M1529.1 2158.0L1537.4 2155.9C1540.2 2158.7 1540.5 2163.6 1539.1 2167.3L1536.0 2158.7Z" fill="#5C3A1A"/><path d="M1498.4 2169.1C1495.7 2169.8 1492.6 2171.9 1492.9 2175.4C1493.6 2178.9 1495.7 2179.6 1497.3 2179.6L1496.4 2187.9L1495.7 2206.0C1502.6 2215.8 1515.1 2215.8 1520.7 2207.4L1521.4 2203.2C1529.1 2201.8 1534.6 2194.9 1537.4 2185.1C1539.5 2175.4 1539.1 2165.7 1536.7 2157.3C1523.5 2158.7 1509.6 2162.9 1498.4 2169.1Z" fill="#F7CDB6"/><ellipse cx="1518.6" cy="2174.0" rx="3.3" ry="4.5" fill="#FFFFFF"/><ellipse cx="1518.6" cy="2174.0" rx="2.4" ry="3.5" fill="#2A2320"/><ellipse cx="1533.5" cy="2171.9" rx="3.3" ry="4.5" fill="#FFFFFF"/><ellipse cx="1533.5" cy="2171.9" rx="2.4" ry="3.5" fill="#2A2320"/><path d="M1512.6 2167.3C1514.4 2165.0 1517.9 2164.5 1520.0 2166.4M1530.4 2163.6C1532.5 2161.8 1535.3 2162.2 1536.7 2164.0M1529.1 2176.8C1532.1 2177.9 1532.1 2182.1 1527.7 2182.6" fill="none" stroke="#2A2320" stroke-width="1.1" stroke-linecap="round" stroke-linejoin="round"/><ellipse cx="1509.6" cy="2183.5" rx="7.0" ry="6.3" fill="#F2B8A6"/><path d="M1519.3 2187.2C1523.5 2190.0 1529.7 2189.3 1533.5 2186.3" fill="none" stroke="#2A2320" stroke-width="1.2" stroke-linecap="round" stroke-linejoin="round"/><path d="M1500.8 2194.2C1503.3 2200.4 1511.0 2204.6 1519.6 2204.6" fill="none" stroke="#2A2320" stroke-width="1.2" stroke-linecap="round" stroke-linejoin="round"/><path d="M1495.7 2205.3C1489.4 2206.7 1484.8 2210.9 1485.2 2215.8C1487.3 2222.0 1494.3 2226.2 1500.5 2226.2C1505.4 2224.8 1508.9 2221.0 1510.7 2217.1C1512.6 2221.0 1516.3 2223.0 1520.4 2222.7C1524.6 2221.0 1529.7 2215.1 1528.4 2206.0L1520.7 2204.6C1515.8 2213.0 1502.6 2213.7 1495.7 2205.3Z" fill="#FFFFFF"/><path d="M1521.4 2235.9L1532.5 2233.8L1533.2 2238.0L1522.1 2240.1Z" fill="#FFFFFF"/><path d="M1478.7 2172.9C1477.8 2167.0 1479.7 2161.5 1482.0 2158.7C1485.9 2146.2 1498.4 2135.0 1512.4 2133.0C1524.9 2132.3 1534.6 2139.2 1538.1 2147.6C1542.3 2150.4 1545.8 2153.1 1546.9 2155.6C1529.1 2157.3 1499.8 2164.3 1478.7 2172.9Z" fill="#FBEA53"/><path d="M1482.0 2159.4C1498.4 2152.4 1519.3 2147.6 1537.0 2146.9" fill="none" stroke="#2A2320" stroke-width="1.1" stroke-linecap="round" stroke-linejoin="round"/></g>
<g id="kid7"><path d="M1610.9 2263.8L1668.2 2261.0L1671.0 2283.9L1676.5 2315.9L1678.9 2320.0L1682.2 2336.7L1686.4 2370.1L1685.9 2384.3L1669.7 2386.8L1663.9 2378.4L1658.0 2363.4L1653.8 2350.1L1648.0 2320.0L1646.2 2311.1L1639.0 2311.1L1635.5 2320.0L1622.1 2345.0L1610.4 2356.7L1598.7 2366.8L1590.4 2371.8L1577.0 2360.1L1580.4 2351.7L1590.4 2340.0L1600.4 2330.0L1605.4 2320.0L1604.9 2302.0L1607.0 2281.1Z" fill="#F5CF45"/><path d="M1646.2 2310.8C1653.6 2306.9 1660.5 2302.7 1662.9 2297.2" fill="none" stroke="#2A2320" stroke-width="1.1" stroke-linecap="round" stroke-linejoin="round"/><path d="M1577.0 2360.1L1573.4 2363.7L1580.4 2374.6L1590.4 2371.8Z" fill="#FFFFFF"/><path d="M1669.7 2386.8L1685.9 2384.3L1686.9 2389.3L1680.6 2396.3L1671.4 2393.8Z" fill="#FFFFFF"/><path d="M1572.9 2364.2C1570.4 2365.9 1567.0 2368.8 1567.0 2371.4C1572.0 2379.3 1585.4 2391.0 1592.9 2395.5C1595.7 2394.3 1596.7 2390.1 1595.7 2386.0C1593.7 2380.9 1590.4 2376.8 1587.0 2373.1L1580.4 2374.6Z" fill="#5B9DF5"/><path d="M1582.4 2377.6L1588.4 2375.1L1592.4 2380.9L1586.2 2383.1Z" fill="#FFFFFF"/><path d="M1670.9 2393.1L1672.5 2403.2C1685.6 2402.5 1700.6 2399.3 1708.1 2396.0C1708.1 2392.1 1703.1 2388.8 1697.3 2389.1C1692.2 2389.8 1688.9 2391.8 1685.2 2393.5L1680.6 2396.3Z" fill="#5B9DF5"/><path d="M1688.1 2394.8L1692.6 2390.1L1697.3 2390.1L1693.1 2395.1Z" fill="#FFFFFF"/><path d="M1615.3 2162.9C1609.8 2164.3 1605.6 2168.4 1604.9 2173.3C1604.2 2176.8 1604.9 2178.9 1604.2 2180.3C1609.8 2179.6 1615.3 2177.5 1618.8 2173.3C1620.9 2171.2 1622.3 2169.8 1625.1 2171.2L1626.5 2164.3Z" fill="#5C3A1A"/><path d="M1614.6 2151.7C1613.9 2158.7 1618.1 2167.0 1625.1 2171.2L1627.8 2172.6L1626.5 2151.7L1637.6 2144.8Z" fill="#5C3A1A"/><path d="M1673.8 2157.3C1677.9 2156.6 1682.1 2160.1 1683.5 2165.7C1684.2 2168.4 1683.8 2169.8 1684.9 2170.5C1680.7 2171.2 1676.5 2169.8 1674.5 2167.0C1672.7 2165.0 1671.7 2163.6 1670.3 2164.3Z" fill="#5C3A1A"/><path d="M1668.2 2133.0C1673.8 2137.8 1675.9 2147.6 1674.5 2157.3L1671.0 2162.9L1669.6 2137.8Z" fill="#5C3A1A"/><path d="M1629.2 2174.0C1619.5 2174.7 1608.4 2178.2 1604.9 2183.7L1593.8 2211.6L1604.9 2240.8L1600.7 2261.7L1610.5 2262.8L1622.3 2192.1Z" fill="#EE8433"/><path d="M1624.4 2194.9L1661.9 2187.9L1671.0 2201.8L1673.8 2231.1L1673.1 2246.4L1668.2 2261.3L1634.8 2263.1L1610.9 2264.0L1607.7 2257.5L1611.1 2242.2L1620.2 2228.3L1624.4 2208.8Z" fill="#FCEE55"/><path d="M1662.6 2182.4L1669.6 2182.4C1673.8 2193.5 1676.5 2213.0 1677.2 2231.1L1673.8 2236.6C1673.1 2215.8 1670.3 2199.1 1664.7 2187.9Z" fill="#EE8433"/><path d="M1614.6 2189.3L1624.4 2194.9C1625.8 2208.8 1620.2 2228.3 1612.5 2240.8C1609.8 2246.4 1608.4 2256.1 1609.5 2262.8L1601.1 2261.7C1602.5 2245.0 1609.5 2231.1 1612.5 2217.1C1613.9 2206.0 1614.6 2197.7 1614.6 2189.3Z" fill="#EE8433"/><path d="M1613.9 2187.9C1605.6 2196.3 1593.1 2213.0 1587.5 2228.3C1584.0 2239.4 1582.6 2251.9 1582.6 2263.8L1597.9 2266.5C1599.3 2258.9 1602.1 2249.1 1606.3 2240.8C1611.1 2229.7 1614.6 2215.8 1619.5 2200.4Z" fill="#FCEE55"/><path d="M1672.4 2196.3C1676.5 2197.7 1680.7 2203.2 1684.9 2208.1C1691.9 2217.1 1700.2 2225.5 1709.2 2235.9L1705.1 2247.1C1696.0 2242.9 1686.3 2238.7 1677.2 2233.8L1673.8 2218.5Z" fill="#FCEE55"/><path d="M1709.2 2235.9L1723.9 2235.9C1722.5 2238.7 1719.7 2240.1 1717.6 2241.5C1722.5 2242.2 1728.0 2242.9 1730.5 2244.7C1729.4 2247.1 1725.2 2247.1 1722.5 2247.1C1725.9 2248.5 1728.0 2249.8 1728.0 2251.2C1725.9 2252.6 1722.5 2251.2 1720.4 2250.8C1723.2 2252.6 1723.9 2254.0 1723.2 2255.0C1721.1 2255.8 1718.3 2254.0 1716.2 2253.3C1718.3 2255.4 1719.0 2256.8 1718.0 2257.5C1714.8 2256.8 1708.6 2250.5 1705.1 2247.1Z" fill="#F7CDB6"/><path d="M1625.8 2151.7C1625.1 2160.1 1627.2 2168.4 1632.0 2175.4L1629.2 2182.4C1634.8 2190.7 1647.3 2190.7 1652.9 2182.4L1653.6 2179.6C1661.2 2178.2 1668.2 2171.2 1671.0 2162.9C1672.7 2154.5 1672.7 2144.8 1669.6 2134.4C1654.3 2137.1 1639.0 2143.4 1625.8 2151.7Z" fill="#F7CDB6"/><path d="M1625.1 2150.4C1637.6 2143.4 1654.3 2136.4 1668.9 2133.0L1670.6 2137.4C1657.1 2139.9 1640.4 2146.2 1627.2 2154.8Z" fill="#5C3A1A"/><ellipse cx="1651.9" cy="2151.0" rx="3.5" ry="4.6" fill="#FFFFFF"/><ellipse cx="1651.9" cy="2151.0" rx="2.5" ry="3.6" fill="#2A2320"/><ellipse cx="1666.8" cy="2149.2" rx="3.5" ry="4.6" fill="#FFFFFF"/><ellipse cx="1666.8" cy="2149.2" rx="2.5" ry="3.6" fill="#2A2320"/><path d="M1645.9 2144.8C1648.0 2142.7 1650.8 2142.7 1652.6 2144.5M1663.3 2142.7C1665.4 2140.9 1668.2 2141.3 1669.6 2143.1M1662.4 2154.2C1665.4 2155.2 1665.4 2159.4 1661.2 2159.8" fill="none" stroke="#2A2320" stroke-width="1.1" stroke-linecap="round" stroke-linejoin="round"/><ellipse cx="1642.9" cy="2160.4" rx="7.0" ry="6.3" fill="#F2B8A6"/><path d="M1650.4 2165.4L1665.7 2164.0C1665.4 2168.4 1662.6 2173.3 1658.2 2173.7C1654.3 2173.3 1651.1 2169.8 1650.4 2165.4Z" fill="#FFFFFF" stroke="#2A2320" stroke-width="1.2" stroke-linecap="round" stroke-linejoin="round"/><path d="M1634.1 2171.2C1636.9 2177.5 1643.8 2181.7 1652.6 2181.7" fill="none" stroke="#2A2320" stroke-width="1.2" stroke-linecap="round" stroke-linejoin="round"/><path d="M1629.2 2182.4C1623.0 2183.7 1618.4 2187.9 1618.8 2192.8C1620.9 2199.1 1627.8 2203.5 1634.1 2203.5C1639.0 2202.1 1642.5 2198.4 1644.3 2194.6C1646.2 2198.4 1649.8 2200.4 1654.0 2200.2C1658.2 2198.4 1663.3 2192.8 1661.9 2182.4L1653.6 2181.0C1648.7 2190.7 1636.2 2190.7 1629.2 2182.4Z" fill="#FFFFFF"/><path d="M1655.0 2213.0L1665.7 2210.9L1666.5 2215.1L1655.7 2217.1Z" fill="#FFFFFF"/><path d="M1612.5 2153.8C1611.4 2147.6 1612.5 2141.3 1614.6 2137.8C1618.1 2125.3 1630.6 2113.5 1645.9 2111.1C1658.5 2110.7 1668.2 2118.3 1671.7 2125.3C1675.2 2127.4 1677.9 2129.5 1679.1 2131.2C1662.6 2135.0 1634.8 2143.4 1612.5 2153.8Z" fill="#FBEA53"/><path d="M1614.6 2139.5C1630.6 2130.9 1651.5 2124.6 1669.3 2123.6" fill="none" stroke="#2A2320" stroke-width="1.1" stroke-linecap="round" stroke-linejoin="round"/></g>
<g id="teacher3"><path d="M1818.5 2218.7L1813.5 2235.1L1758.1 2357.8L1785.1 2369.5L1858.6 2243.5L1863.9 2226.8L1863.9 2213.4L1818.5 2213.4Z" fill="#595959"/><path d="M1925.4 2230.4L1964.6 2376.2L1993.0 2371.7L1968.8 2225.1L1967.1 2213.4L1925.4 2213.4Z" fill="#595959"/><path d="M1758.1 2357.8L1785.1 2369.5L1782.1 2375.0C1790.1 2380.4 1798.5 2387.0 1803.5 2390.7C1806.0 2392.9 1805.5 2396.2 1803.5 2397.9C1800.1 2400.7 1795.1 2400.1 1791.0 2397.9L1747.6 2374.5C1749.2 2368.7 1753.4 2362.0 1758.1 2357.8Z" fill="#FFFFFF"/><path d="M1748.7 2371.7L1791.8 2395.4C1797.6 2397.1 1803.5 2395.4 1805.2 2392.9M1755.9 2360.3C1760.1 2365.3 1760.9 2370.4 1759.7 2376.2M1793.5 2394.6C1794.3 2391.2 1796.5 2388.7 1799.3 2387.9M1777.6 2370.4L1783.5 2371.7M1777.6 2375.4L1783.1 2374.5M1780.1 2379.5L1785.5 2377.9M1783.1 2382.9L1788.1 2380.7M1786.1 2386.2L1790.8 2383.4M1789.3 2389.1L1793.5 2386.2" fill="none" stroke="#2A2320" stroke-width="1.1" stroke-linecap="round" stroke-linejoin="round"/><path d="M1964.6 2376.2L1993.0 2371.7L1995.5 2376.2C2005.5 2377.0 2017.2 2377.9 2022.2 2379.5C2025.6 2381.2 2027.6 2384.5 2027.2 2390.1L1967.1 2398.7C1965.8 2391.2 1965.1 2383.7 1964.6 2376.2Z" fill="#FFFFFF"/><path d="M1966.8 2395.7L2027.2 2387.0M1965.1 2382.9C1972.1 2383.4 1976.3 2387.9 1978.8 2393.7M2018.9 2378.4C2017.2 2382.0 2016.5 2385.0 2017.2 2388.4M1988.8 2373.7L1994.7 2375.7M1991.3 2379.5L1995.2 2376.2M1997.2 2381.2L2000.2 2377.4M2002.2 2382.0L2004.9 2378.0M2007.2 2382.4L2009.5 2378.7M2012.2 2382.5L2014.2 2379.0" fill="none" stroke="#2A2320" stroke-width="1.1" stroke-linecap="round" stroke-linejoin="round"/><path d="M1894.6 1887.9C1897.4 1893.5 1898.1 1896.3 1900.2 1897.0C1908.5 1899.1 1916.9 1907.4 1919.0 1922.7L1910.6 1918.8L1900.9 1915.8C1899.5 1910.2 1897.4 1904.6 1896.0 1899.1Z" fill="#514845"/><path d="M1866.5 1918.5L1855.0 1923.0L1841.0 1933.1L1843.8 1990.9L1937.8 1990.9L1925.9 1928.3L1910.6 1918.8L1900.9 1915.8C1897.4 1928.3 1875.1 1932.4 1866.5 1918.5Z" fill="#EE9186"/><path d="M1841.0 1933.1L1834.1 1938.7L1827.8 1945.0L1800.0 1974.2L1777.4 1996.7L1749.6 2016.2L1729.4 2032.9L1737.0 2047.5L1763.5 2038.4L1791.3 2025.9L1812.2 2013.4L1830.3 1999.5L1837.9 1993.9L1840.0 2007.8L1843.8 1990.9Z" fill="#EE9186"/><path d="M1925.9 1928.3L1953.1 1940.8C1967.0 1945.7 1973.9 1947.1 1980.9 1947.1C1994.8 1946.4 2008.7 1942.2 2045.6 1933.1L2052.5 1950.5L2022.6 1970.0C2008.7 1978.4 1994.8 1983.9 1980.9 1987.8C1973.9 1988.8 1967.0 1988.1 1960.0 1986.7L1937.8 1981.1L1931.5 1949.1Z" fill="#EE9186"/><path d="M1971.8 1959.6L1980.2 1948.5L1976.7 1965.8" fill="none" stroke="#2A2320" stroke-width="1.1" stroke-linecap="round" stroke-linejoin="round"/><path d="M1785.1 2008.5L1782.3 1996.0L1792.7 2003.7" fill="none" stroke="#2A2320" stroke-width="1.1" stroke-linecap="round" stroke-linejoin="round"/><path d="M1729.4 2032.9L1737.0 2047.5C1725.9 2056.5 1714.8 2062.1 1705.0 2064.9C1699.5 2067.0 1692.5 2068.4 1691.1 2067.0C1693.9 2064.2 1700.9 2062.8 1707.8 2060.0C1700.9 2062.1 1688.3 2064.2 1684.9 2062.8C1685.6 2060.0 1698.1 2057.2 1706.4 2053.7C1698.1 2055.8 1684.2 2058.6 1680.0 2056.5C1681.4 2053.7 1693.9 2051.0 1705.7 2046.8C1696.7 2048.2 1685.6 2051.0 1682.8 2050.3C1685.6 2045.4 1700.9 2041.2 1710.6 2039.1C1705.0 2035.7 1699.5 2033.6 1696.7 2031.5C1702.3 2029.4 1714.8 2030.8 1729.4 2032.9Z" fill="#F7CDB6"/><path d="M2045.6 1933.1C2050.5 1928.3 2061.6 1918.5 2068.8 1913.2C2070.8 1912.7 2071.1 1914.4 2070.2 1916.0L2065.1 1925.2C2072.7 1922.7 2086.6 1919.2 2092.8 1918.1C2094.7 1918.5 2094.2 1920.2 2092.2 1920.9C2085.2 1923.7 2076.9 1927.6 2072.0 1929.9C2076.9 1932.4 2079.0 1938.0 2078.3 1943.6C2076.9 1947.1 2072.7 1947.8 2064.4 1948.5L2052.5 1950.5Z" fill="#F7CDB6"/><path d="M2069.9 1931.1C2064.4 1932.4 2063.0 1935.2 2064.4 1938.0C2068.6 1940.1 2072.7 1939.4 2076.9 1938.7M2064.4 1938.0C2063.7 1942.2 2067.2 1945.7 2075.5 1945.2" fill="none" stroke="#2A2320" stroke-width="1.1" stroke-linecap="round" stroke-linejoin="round"/><path d="M1841.0 1933.1L1855.0 1923.0L1867.5 1974.9L1914.1 1971.7L1910.6 1918.8L1925.9 1928.3L1931.5 1949.1L1935.7 1970.0L1937.8 1990.9L1937.4 2021.7L1936.7 2056.5L1944.4 2091.3L1956.9 2147.0L1965.5 2180.0L1973.0 2222.1L1953.8 2226.8L1920.4 2230.1L1887.0 2229.8L1853.6 2225.9L1814.8 2215.9L1820.2 2180.0L1824.7 2160.9L1833.1 2105.2L1838.6 2063.5L1838.6 2035.7L1841.4 2007.8L1840.4 2004.8L1843.8 1990.9L1843.1 1963.1Z" fill="#F4C265"/><path d="M1846.3 2075.3L1890.1 2073.9C1892.6 2083.0 1893.2 2088.5 1892.9 2091.3C1892.9 2098.3 1892.6 2103.8 1891.5 2108.0C1890.1 2115.0 1888.0 2119.1 1884.5 2123.3C1880.4 2127.5 1874.8 2131.0 1867.8 2131.0C1862.3 2131.0 1858.8 2128.9 1855.3 2126.1C1851.8 2121.9 1849.1 2117.1 1847.7 2110.8C1845.9 2103.8 1845.3 2098.3 1845.3 2091.3C1845.3 2085.8 1845.6 2080.2 1846.3 2075.3Z" fill="#F9E095"/><path d="M1914.9 2070.4L1940.2 2069.3L1950.6 2121.2C1945.8 2124.7 1940.9 2126.1 1936.0 2126.1C1931.9 2125.4 1928.4 2124.0 1924.9 2121.9C1920.7 2118.5 1917.9 2114.3 1916.5 2109.4C1914.9 2103.8 1913.8 2098.3 1913.8 2091.3C1913.8 2084.4 1914.2 2077.4 1914.9 2070.4Z" fill="#F9E095"/><ellipse cx="1858.8" cy="2091.3" rx="7.7" ry="11.4" fill="#F1A33B" transform="rotate(-25 1858.8 2091.3)"/><ellipse cx="1856.0" cy="2105.9" rx="8.6" ry="5.3" fill="#F1A33B" transform="rotate(-20 1856.0 2105.9)"/><ellipse cx="1879.7" cy="2099.0" rx="10.9" ry="6.3" fill="#F1A33B" transform="rotate(-25 1879.7 2099.0)"/><ellipse cx="1872.0" cy="2112.2" rx="5.6" ry="8.6" fill="#F1A33B" transform="rotate(-15 1872.0 2112.2)"/><ellipse cx="1866.5" cy="2101.1" rx="2.4" ry="8.3" fill="#86766B" transform="rotate(15 1866.5 2101.1)"/><path d="M1867.8 2093.4C1869.2 2087.1 1870.6 2081.6 1867.2 2079.5C1864.4 2079.5 1863.7 2083.0 1865.8 2084.4M1870.6 2094.8C1873.4 2089.9 1877.6 2085.8 1881.8 2085.8C1883.2 2087.8 1881.8 2090.6 1879.7 2089.9" fill="none" stroke="#86766B" stroke-width="1.0" stroke-linecap="round" stroke-linejoin="round"/><path d="M1925.2 1982.5C1924.5 1974.2 1927.3 1968.6 1931.5 1966.5C1933.6 1971.4 1932.2 1977.0 1928.7 1980.5Z" fill="#4FA630"/><ellipse cx="1920.5" cy="1979.8" rx="5.6" ry="7.8" fill="#E4674F" transform="rotate(-7.1 1920.5 1979.8)"/><ellipse cx="1931.2" cy="1985.3" rx="5.6" ry="7.8" fill="#E4674F" transform="rotate(64.5 1931.2 1985.3)"/><ellipse cx="1929.0" cy="1995.8" rx="5.6" ry="7.8" fill="#E4674F" transform="rotate(129.6 1929.0 1995.8)"/><ellipse cx="1917.8" cy="1998.6" rx="5.6" ry="7.8" fill="#E4674F" transform="rotate(-156.1 1917.8 1998.6)"/><ellipse cx="1912.3" cy="1989.6" rx="5.6" ry="7.8" fill="#E4674F" transform="rotate(-89.0 1912.3 1989.6)"/><ellipse cx="1921.8" cy="1989.8" rx="7.0" ry="7.0" fill="#E4674F"/><ellipse cx="1921.8" cy="1989.8" rx="3.8" ry="3.8" fill="#F6C77E"/><path d="M1875.1 1821.8C1858.4 1821.1 1844.5 1830.9 1839.7 1843.4C1836.9 1851.7 1836.9 1862.9 1839.0 1871.2C1840.4 1879.6 1841.7 1885.1 1844.5 1887.9L1897.4 1896.3C1904.4 1889.3 1909.9 1879.6 1911.3 1868.4C1913.0 1855.9 1909.9 1843.4 1903.0 1833.7C1896.0 1825.3 1886.3 1821.8 1875.1 1821.8Z" fill="#514845"/><path d="M1841.7 1854.5L1844.5 1847.6L1855.7 1854.5L1868.9 1851.7L1867.5 1843.4C1873.7 1849.0 1880.7 1861.5 1890.4 1867.0L1897.4 1879.6L1896.0 1899.1L1900.9 1915.8C1897.4 1928.3 1875.1 1932.4 1866.5 1918.5L1866.1 1910.2C1858.4 1908.8 1851.5 1901.8 1847.3 1894.9C1843.1 1886.5 1840.4 1876.8 1840.4 1868.4C1840.4 1862.9 1841.0 1858.7 1841.7 1854.5Z" fill="#F7CDB6"/><path d="M1890.4 1867.0C1893.2 1862.9 1897.4 1861.5 1899.5 1863.6C1901.6 1865.7 1901.6 1871.2 1899.5 1874.7C1897.4 1877.5 1896.0 1878.2 1894.6 1878.9C1893.2 1882.4 1893.2 1886.5 1894.6 1890.0L1889.1 1876.8Z" fill="#F7CDB6"/><path d="M1877.9 1855.9C1883.5 1862.9 1889.1 1865.7 1892.1 1867.3C1892.9 1869.8 1891.8 1873.3 1890.2 1875.4C1891.1 1871.2 1889.1 1868.4 1886.3 1867.0Z" fill="#514845"/><path d="M1844.2 1863.6C1847.3 1861.5 1850.8 1861.8 1853.6 1864.3M1861.9 1863.6C1866.1 1860.8 1871.0 1861.2 1875.1 1863.6" fill="none" stroke="#2A2320" stroke-width="1.1" stroke-linecap="round" stroke-linejoin="round"/><ellipse cx="1848.7" cy="1874.0" rx="3.3" ry="4.7" fill="#FFFFFF"/><ellipse cx="1866.4" cy="1872.9" rx="3.3" ry="4.7" fill="#FFFFFF"/><ellipse cx="1848.7" cy="1874.0" rx="2.2" ry="3.6" fill="#2A2320"/><ellipse cx="1866.4" cy="1872.9" rx="2.2" ry="3.6" fill="#2A2320"/><path d="M1855.4 1869.8L1851.5 1886.3L1858.4 1886.3" fill="none" stroke="#2A2320" stroke-width="1.1" stroke-linecap="round" stroke-linejoin="round"/><ellipse cx="1874.9" cy="1882.4" rx="6.3" ry="4.6" fill="#F2B8A6"/><path d="M1852.9 1892.8C1858.4 1896.3 1865.4 1894.2 1869.9 1890.0" fill="none" stroke="#2A2320" stroke-width="1.2" stroke-linecap="round" stroke-linejoin="round"/><path d="M1866.1 1910.2C1877.9 1907.4 1886.3 1900.4 1889.7 1894.2" fill="none" stroke="#2A2320" stroke-width="1.3" stroke-linecap="round" stroke-linejoin="round"/></g>
</svg>
</body></html>
